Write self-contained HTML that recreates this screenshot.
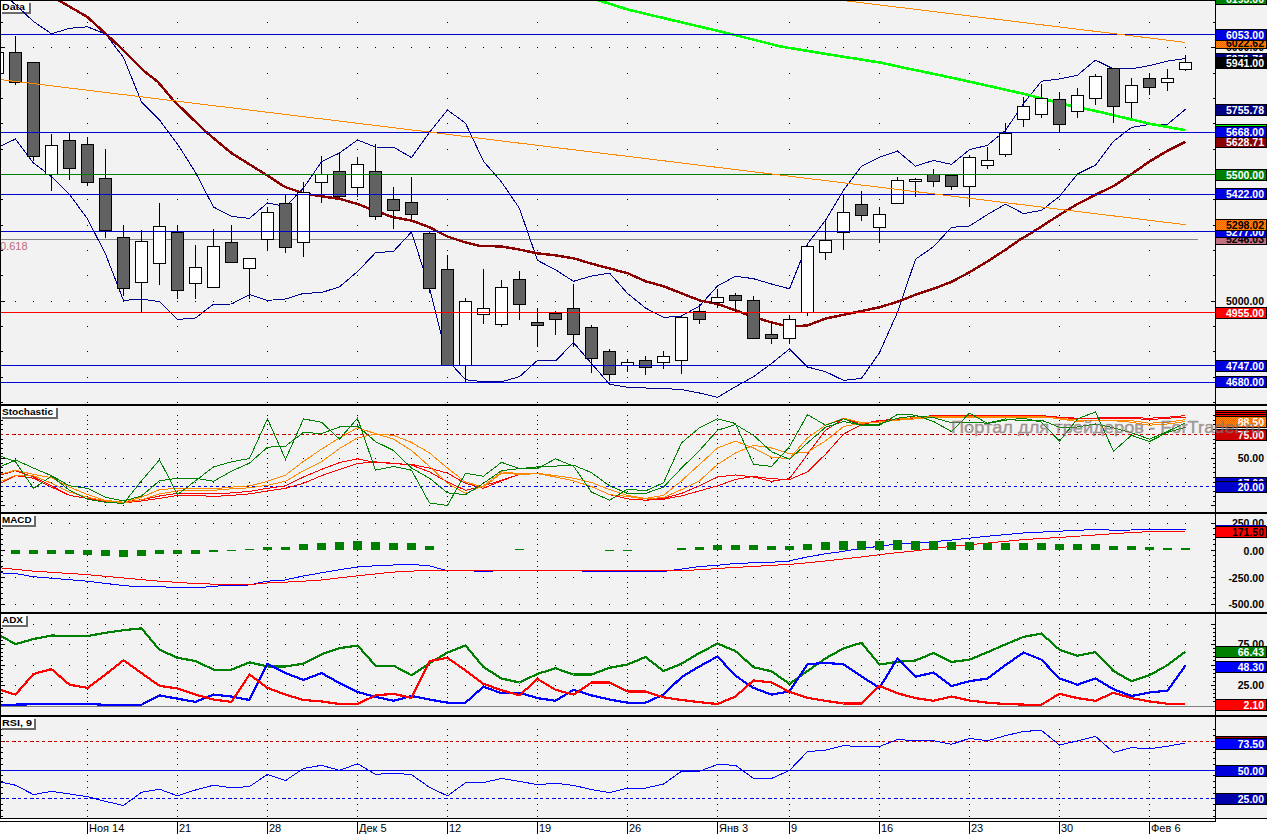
<!DOCTYPE html><html><head><meta charset="utf-8"><title>chart</title><style>html,body{margin:0;padding:0;background:#fff;overflow:hidden}body{width:1268px;height:834px;position:relative;font-family:"Liberation Sans",sans-serif}</style></head><body><svg width="1268" height="834" viewBox="0 0 1268 834" shape-rendering="crispEdges" style="position:absolute;left:0;top:0;font-family:'Liberation Sans',sans-serif">
<rect x="0" y="0" width="1268" height="834" fill="#ffffff" />
<rect x="0" y="0" width="1267" height="818" fill="#f2f2f2" />
<defs><clipPath id="cm"><rect x="0" y="0" width="1215" height="404"/></clipPath><pattern id="hat" width="2" height="2" patternUnits="userSpaceOnUse"><rect width="2" height="2" fill="#ff9000"/><rect width="1" height="1" fill="#ff5a00"/><rect x="1" y="1" width="1" height="1" fill="#ff5a00"/></pattern><pattern id="pk" width="2" height="1" patternUnits="userSpaceOnUse"><rect width="1" height="1" fill="#808080"/><rect x="1" width="1" height="1" fill="#ff5078"/></pattern></defs>
<path d="M87 402h1v1h-1zM177 402h1v1h-1zM267 402h1v1h-1zM357 402h1v1h-1zM447 402h1v1h-1zM537 402h1v1h-1zM627 402h1v1h-1zM717 402h1v1h-1zM789 402h1v1h-1zM879 402h1v1h-1zM969 402h1v1h-1zM1059 402h1v1h-1zM1149 402h1v1h-1zM87 377h1v1h-1zM177 377h1v1h-1zM267 377h1v1h-1zM357 377h1v1h-1zM447 377h1v1h-1zM537 377h1v1h-1zM627 377h1v1h-1zM717 377h1v1h-1zM789 377h1v1h-1zM879 377h1v1h-1zM969 377h1v1h-1zM1059 377h1v1h-1zM1149 377h1v1h-1zM87 351h1v1h-1zM177 351h1v1h-1zM267 351h1v1h-1zM357 351h1v1h-1zM447 351h1v1h-1zM537 351h1v1h-1zM627 351h1v1h-1zM717 351h1v1h-1zM789 351h1v1h-1zM879 351h1v1h-1zM969 351h1v1h-1zM1059 351h1v1h-1zM1149 351h1v1h-1zM87 326h1v1h-1zM177 326h1v1h-1zM267 326h1v1h-1zM357 326h1v1h-1zM447 326h1v1h-1zM537 326h1v1h-1zM627 326h1v1h-1zM717 326h1v1h-1zM789 326h1v1h-1zM879 326h1v1h-1zM969 326h1v1h-1zM1059 326h1v1h-1zM1149 326h1v1h-1zM87 301h1v1h-1zM177 301h1v1h-1zM267 301h1v1h-1zM357 301h1v1h-1zM447 301h1v1h-1zM537 301h1v1h-1zM627 301h1v1h-1zM717 301h1v1h-1zM789 301h1v1h-1zM879 301h1v1h-1zM969 301h1v1h-1zM1059 301h1v1h-1zM1149 301h1v1h-1zM87 275h1v1h-1zM177 275h1v1h-1zM267 275h1v1h-1zM357 275h1v1h-1zM447 275h1v1h-1zM537 275h1v1h-1zM627 275h1v1h-1zM717 275h1v1h-1zM789 275h1v1h-1zM879 275h1v1h-1zM969 275h1v1h-1zM1059 275h1v1h-1zM1149 275h1v1h-1zM87 250h1v1h-1zM177 250h1v1h-1zM267 250h1v1h-1zM357 250h1v1h-1zM447 250h1v1h-1zM537 250h1v1h-1zM627 250h1v1h-1zM717 250h1v1h-1zM789 250h1v1h-1zM879 250h1v1h-1zM969 250h1v1h-1zM1059 250h1v1h-1zM1149 250h1v1h-1zM87 225h1v1h-1zM177 225h1v1h-1zM267 225h1v1h-1zM357 225h1v1h-1zM447 225h1v1h-1zM537 225h1v1h-1zM627 225h1v1h-1zM717 225h1v1h-1zM789 225h1v1h-1zM879 225h1v1h-1zM969 225h1v1h-1zM1059 225h1v1h-1zM1149 225h1v1h-1zM87 199h1v1h-1zM177 199h1v1h-1zM267 199h1v1h-1zM357 199h1v1h-1zM447 199h1v1h-1zM537 199h1v1h-1zM627 199h1v1h-1zM717 199h1v1h-1zM789 199h1v1h-1zM879 199h1v1h-1zM969 199h1v1h-1zM1059 199h1v1h-1zM1149 199h1v1h-1zM87 174h1v1h-1zM177 174h1v1h-1zM267 174h1v1h-1zM357 174h1v1h-1zM447 174h1v1h-1zM537 174h1v1h-1zM627 174h1v1h-1zM717 174h1v1h-1zM789 174h1v1h-1zM879 174h1v1h-1zM969 174h1v1h-1zM1059 174h1v1h-1zM1149 174h1v1h-1zM87 149h1v1h-1zM177 149h1v1h-1zM267 149h1v1h-1zM357 149h1v1h-1zM447 149h1v1h-1zM537 149h1v1h-1zM627 149h1v1h-1zM717 149h1v1h-1zM789 149h1v1h-1zM879 149h1v1h-1zM969 149h1v1h-1zM1059 149h1v1h-1zM1149 149h1v1h-1zM87 123h1v1h-1zM177 123h1v1h-1zM267 123h1v1h-1zM357 123h1v1h-1zM447 123h1v1h-1zM537 123h1v1h-1zM627 123h1v1h-1zM717 123h1v1h-1zM789 123h1v1h-1zM879 123h1v1h-1zM969 123h1v1h-1zM1059 123h1v1h-1zM1149 123h1v1h-1zM87 98h1v1h-1zM177 98h1v1h-1zM267 98h1v1h-1zM357 98h1v1h-1zM447 98h1v1h-1zM537 98h1v1h-1zM627 98h1v1h-1zM717 98h1v1h-1zM789 98h1v1h-1zM879 98h1v1h-1zM969 98h1v1h-1zM1059 98h1v1h-1zM1149 98h1v1h-1zM87 73h1v1h-1zM177 73h1v1h-1zM267 73h1v1h-1zM357 73h1v1h-1zM447 73h1v1h-1zM537 73h1v1h-1zM627 73h1v1h-1zM717 73h1v1h-1zM789 73h1v1h-1zM879 73h1v1h-1zM969 73h1v1h-1zM1059 73h1v1h-1zM1149 73h1v1h-1zM87 47h1v1h-1zM177 47h1v1h-1zM267 47h1v1h-1zM357 47h1v1h-1zM447 47h1v1h-1zM537 47h1v1h-1zM627 47h1v1h-1zM717 47h1v1h-1zM789 47h1v1h-1zM879 47h1v1h-1zM969 47h1v1h-1zM1059 47h1v1h-1zM1149 47h1v1h-1zM87 22h1v1h-1zM177 22h1v1h-1zM267 22h1v1h-1zM357 22h1v1h-1zM447 22h1v1h-1zM537 22h1v1h-1zM627 22h1v1h-1zM717 22h1v1h-1zM789 22h1v1h-1zM879 22h1v1h-1zM969 22h1v1h-1zM1059 22h1v1h-1zM1149 22h1v1h-1zM15 301h1v1h-1zM33 301h1v1h-1zM51 301h1v1h-1zM69 301h1v1h-1zM87 301h1v1h-1zM105 301h1v1h-1zM123 301h1v1h-1zM141 301h1v1h-1zM159 301h1v1h-1zM177 301h1v1h-1zM195 301h1v1h-1zM213 301h1v1h-1zM231 301h1v1h-1zM249 301h1v1h-1zM267 301h1v1h-1zM285 301h1v1h-1zM303 301h1v1h-1zM321 301h1v1h-1zM339 301h1v1h-1zM357 301h1v1h-1zM375 301h1v1h-1zM393 301h1v1h-1zM411 301h1v1h-1zM429 301h1v1h-1zM447 301h1v1h-1zM465 301h1v1h-1zM483 301h1v1h-1zM501 301h1v1h-1zM519 301h1v1h-1zM537 301h1v1h-1zM555 301h1v1h-1zM573 301h1v1h-1zM591 301h1v1h-1zM609 301h1v1h-1zM627 301h1v1h-1zM645 301h1v1h-1zM663 301h1v1h-1zM681 301h1v1h-1zM699 301h1v1h-1zM717 301h1v1h-1zM735 301h1v1h-1zM753 301h1v1h-1zM771 301h1v1h-1zM789 301h1v1h-1zM807 301h1v1h-1zM825 301h1v1h-1zM843 301h1v1h-1zM861 301h1v1h-1zM879 301h1v1h-1zM897 301h1v1h-1zM915 301h1v1h-1zM933 301h1v1h-1zM951 301h1v1h-1zM969 301h1v1h-1zM987 301h1v1h-1zM1005 301h1v1h-1zM1023 301h1v1h-1zM1041 301h1v1h-1zM1059 301h1v1h-1zM1077 301h1v1h-1zM1095 301h1v1h-1zM1113 301h1v1h-1zM1131 301h1v1h-1zM1149 301h1v1h-1zM1167 301h1v1h-1zM1185 301h1v1h-1zM15 47h1v1h-1zM33 47h1v1h-1zM51 47h1v1h-1zM69 47h1v1h-1zM87 47h1v1h-1zM105 47h1v1h-1zM123 47h1v1h-1zM141 47h1v1h-1zM159 47h1v1h-1zM177 47h1v1h-1zM195 47h1v1h-1zM213 47h1v1h-1zM231 47h1v1h-1zM249 47h1v1h-1zM267 47h1v1h-1zM285 47h1v1h-1zM303 47h1v1h-1zM321 47h1v1h-1zM339 47h1v1h-1zM357 47h1v1h-1zM375 47h1v1h-1zM393 47h1v1h-1zM411 47h1v1h-1zM429 47h1v1h-1zM447 47h1v1h-1zM465 47h1v1h-1zM483 47h1v1h-1zM501 47h1v1h-1zM519 47h1v1h-1zM537 47h1v1h-1zM555 47h1v1h-1zM573 47h1v1h-1zM591 47h1v1h-1zM609 47h1v1h-1zM627 47h1v1h-1zM645 47h1v1h-1zM663 47h1v1h-1zM681 47h1v1h-1zM699 47h1v1h-1zM717 47h1v1h-1zM735 47h1v1h-1zM753 47h1v1h-1zM771 47h1v1h-1zM789 47h1v1h-1zM807 47h1v1h-1zM825 47h1v1h-1zM843 47h1v1h-1zM861 47h1v1h-1zM879 47h1v1h-1zM897 47h1v1h-1zM915 47h1v1h-1zM933 47h1v1h-1zM951 47h1v1h-1zM969 47h1v1h-1zM987 47h1v1h-1zM1005 47h1v1h-1zM1023 47h1v1h-1zM1041 47h1v1h-1zM1059 47h1v1h-1zM1077 47h1v1h-1zM1095 47h1v1h-1zM1113 47h1v1h-1zM1131 47h1v1h-1zM1149 47h1v1h-1zM1167 47h1v1h-1zM1185 47h1v1h-1z" fill="#000"/>
<rect x="1" y="402" width="2" height="1" fill="#000" />
<rect x="1213" y="402" width="2" height="1" fill="#000" />
<rect x="1" y="377" width="2" height="1" fill="#000" />
<rect x="1213" y="377" width="2" height="1" fill="#000" />
<rect x="1" y="351" width="2" height="1" fill="#000" />
<rect x="1213" y="351" width="2" height="1" fill="#000" />
<rect x="1" y="326" width="2" height="1" fill="#000" />
<rect x="1213" y="326" width="2" height="1" fill="#000" />
<rect x="1" y="301" width="4" height="1" fill="#000" />
<rect x="1211" y="301" width="4" height="1" fill="#000" />
<rect x="1" y="275" width="2" height="1" fill="#000" />
<rect x="1213" y="275" width="2" height="1" fill="#000" />
<rect x="1" y="250" width="2" height="1" fill="#000" />
<rect x="1213" y="250" width="2" height="1" fill="#000" />
<rect x="1" y="225" width="2" height="1" fill="#000" />
<rect x="1213" y="225" width="2" height="1" fill="#000" />
<rect x="1" y="199" width="2" height="1" fill="#000" />
<rect x="1213" y="199" width="2" height="1" fill="#000" />
<rect x="1" y="174" width="2" height="1" fill="#000" />
<rect x="1213" y="174" width="2" height="1" fill="#000" />
<rect x="1" y="149" width="2" height="1" fill="#000" />
<rect x="1213" y="149" width="2" height="1" fill="#000" />
<rect x="1" y="123" width="2" height="1" fill="#000" />
<rect x="1213" y="123" width="2" height="1" fill="#000" />
<rect x="1" y="98" width="2" height="1" fill="#000" />
<rect x="1213" y="98" width="2" height="1" fill="#000" />
<rect x="1" y="73" width="2" height="1" fill="#000" />
<rect x="1213" y="73" width="2" height="1" fill="#000" />
<rect x="1" y="47" width="4" height="1" fill="#000" />
<rect x="1211" y="47" width="4" height="1" fill="#000" />
<rect x="1" y="22" width="2" height="1" fill="#000" />
<rect x="1213" y="22" width="2" height="1" fill="#000" />
<g clip-path="url(#cm)">
<rect x="2" y="3" width="29" height="11" fill="#6a6a6a" />
<rect x="1" y="1" width="28" height="11" fill="#ffffff" />
<text x="2" y="10" font-size="9.7" font-weight="bold" fill="#000" textLength="23" lengthAdjust="spacingAndGlyphs">Data</text>
<rect x="1" y="239" width="1197" height="1" fill="url(#pk)" />
<text x="0" y="250" font-size="11" fill="#c06878">0.618</text>
<polyline points="-3.0,-12.0 15.5,4.7 33.5,21.5 51.5,33.8 69.5,28.3 87.5,26.8 105.5,34.0 123.5,57.5 141.5,102.0 159.5,120.0 177.5,144.0 195.5,172.5 213.5,207.0 231.5,216.4 249.5,218.4 267.5,203.0 285.5,206.5 303.5,188.0 321.5,161.8 339.5,153.0 357.5,140.0 375.5,147.0 393.5,147.2 411.5,157.5 429.5,132.3 447.5,110.0 465.5,123.2 483.5,161.3 501.5,182.0 519.5,208.5 537.5,260.4 555.5,269.8 573.5,281.3 591.5,276.1 609.5,273.1 627.5,293.4 645.5,308.0 663.5,317.4 681.5,316.0 699.5,306.0 717.5,286.0 735.5,276.2 753.5,278.7 771.5,284.0 789.5,288.8 807.5,243.9 825.5,220.3 843.5,190.2 861.5,166.2 879.5,157.3 897.5,151.0 915.5,166.2 933.5,160.4 951.5,164.4 969.5,149.7 987.5,145.3 1005.5,130.4 1023.5,103.5 1041.5,81.2 1059.5,79.0 1077.5,75.2 1095.5,60.1 1113.5,68.9 1131.5,68.9 1149.5,65.6 1167.5,61.1 1185.5,58.5" fill="none" stroke="#000090" stroke-width="1" />
<polyline points="-3.0,148.0 15.5,139.0 33.5,163.0 51.5,176.7 69.5,194.4 87.5,219.0 105.5,254.0 123.5,300.5 141.5,299.0 159.5,301.7 177.5,319.4 195.5,318.0 213.5,304.2 231.5,304.0 249.5,294.6 267.5,300.4 285.5,299.0 303.5,293.4 321.5,292.6 339.5,286.8 357.5,271.6 375.5,252.7 393.5,251.4 411.5,232.0 429.5,288.3 447.5,360.0 465.5,379.7 483.5,381.7 501.5,381.7 519.5,376.7 537.5,360.3 555.5,361.0 573.5,342.6 591.5,363.5 609.5,384.2 627.5,387.3 645.5,388.0 663.5,388.6 681.5,389.5 699.5,393.0 717.5,397.3 735.5,386.7 753.5,376.7 771.5,363.5 789.5,349.0 807.5,367.0 825.5,371.6 843.5,380.4 861.5,378.4 879.5,352.7 897.5,312.3 915.5,259.3 933.5,246.7 951.5,227.3 969.5,226.0 987.5,214.5 1005.5,204.1 1023.5,213.6 1041.5,210.3 1059.5,196.4 1077.5,174.0 1095.5,165.1 1113.5,141.3 1131.5,127.4 1149.5,124.4 1167.5,124.2 1185.5,109.3" fill="none" stroke="#000090" stroke-width="1" />
<polyline points="590.0,-3.0 597.7,0.0 628.0,9.6 681.0,22.2 731.4,34.1 780.0,46.3 789.5,48.0 832.4,55.0 881.0,62.7 900.0,66.9 940.0,75.2 969.3,81.6 1023.5,93.8 1066.2,104.7 1100.0,112.0 1149.5,123.7 1185.5,130.2" fill="none" stroke="#00ff00" stroke-width="2.6" />
<polyline points="50.0,-6.0 58.0,0.0 87.0,16.7 106.0,34.0 123.7,50.5 144.0,71.0 158.0,82.0 174.0,101.0 205.7,131.5 214.5,139.0 232.0,153.5 265.0,174.0 285.0,187.0 303.0,193.0 310.0,194.6 340.4,199.0 357.5,204.0 375.7,211.0 393.4,217.3 411.5,220.5 429.5,227.3 447.5,236.5 465.5,242.5 479.3,245.8 501.7,246.5 518.9,249.5 537.2,253.3 555.3,255.3 573.7,258.3 591.5,263.7 609.3,268.4 627.6,273.2 645.5,281.3 663.7,286.3 681.6,293.4 699.7,300.4 717.4,304.0 735.3,310.3 753.5,316.8 771.4,322.4 783.3,325.4 796.0,326.2 807.5,325.4 825.4,318.6 843.6,314.8 861.5,311.0 879.4,307.3 897.6,301.7 915.8,294.6 933.4,288.8 951.1,282.0 969.3,272.4 987.7,261.3 1005.4,249.8 1020.0,239.6 1032.4,232.3 1059.4,214.9 1077.5,204.0 1096.5,194.3 1113.6,186.0 1131.5,174.1 1149.5,161.5 1167.6,150.7 1185.5,141.8" fill="none" stroke="#8b0000" stroke-width="2.45" />
<rect x="-3" y="52" width="1" height="22" fill="#000" />
<rect x="-9" y="52" width="13" height="22" fill="#000" />
<rect x="-8" y="53" width="11" height="20" fill="#ffffff" />
<rect x="15" y="36" width="1" height="49" fill="#000" />
<rect x="9" y="52" width="13" height="31" fill="#000" />
<rect x="10" y="53" width="11" height="29" fill="#626262" />
<rect x="33" y="62" width="1" height="99" fill="#000" />
<rect x="27" y="62" width="13" height="95" fill="#000" />
<rect x="28" y="63" width="11" height="93" fill="#626262" />
<rect x="51" y="134" width="1" height="57" fill="#000" />
<rect x="45" y="145" width="13" height="30" fill="#000" />
<rect x="46" y="146" width="11" height="28" fill="#ffffff" />
<rect x="69" y="133" width="1" height="47" fill="#000" />
<rect x="63" y="140" width="13" height="29" fill="#000" />
<rect x="64" y="141" width="11" height="27" fill="#626262" />
<rect x="87" y="137" width="1" height="49" fill="#000" />
<rect x="81" y="144" width="13" height="39" fill="#000" />
<rect x="82" y="145" width="11" height="37" fill="#626262" />
<rect x="105" y="149" width="1" height="89" fill="#000" />
<rect x="99" y="178" width="13" height="53" fill="#000" />
<rect x="100" y="179" width="11" height="51" fill="#626262" />
<rect x="123" y="225" width="1" height="71" fill="#000" />
<rect x="117" y="237" width="13" height="52" fill="#000" />
<rect x="118" y="238" width="11" height="50" fill="#626262" />
<rect x="141" y="230" width="1" height="83" fill="#000" />
<rect x="135" y="241" width="13" height="42" fill="#000" />
<rect x="136" y="242" width="11" height="40" fill="#ffffff" />
<rect x="159" y="203" width="1" height="82" fill="#000" />
<rect x="153" y="226" width="13" height="38" fill="#000" />
<rect x="154" y="227" width="11" height="36" fill="#ffffff" />
<rect x="177" y="225" width="1" height="74" fill="#000" />
<rect x="171" y="232" width="13" height="59" fill="#000" />
<rect x="172" y="233" width="11" height="57" fill="#626262" />
<rect x="195" y="245" width="1" height="54" fill="#000" />
<rect x="189" y="267" width="13" height="17" fill="#000" />
<rect x="190" y="268" width="11" height="15" fill="#ffffff" />
<rect x="213" y="229" width="1" height="59" fill="#000" />
<rect x="207" y="246" width="13" height="42" fill="#000" />
<rect x="208" y="247" width="11" height="40" fill="#ffffff" />
<rect x="231" y="225" width="1" height="38" fill="#000" />
<rect x="225" y="242" width="13" height="21" fill="#000" />
<rect x="226" y="243" width="11" height="19" fill="#626262" />
<rect x="249" y="258" width="1" height="41" fill="#000" />
<rect x="243" y="258" width="13" height="11" fill="#000" />
<rect x="244" y="259" width="11" height="9" fill="#ffffff" />
<rect x="267" y="207" width="1" height="44" fill="#000" />
<rect x="261" y="212" width="13" height="28" fill="#000" />
<rect x="262" y="213" width="11" height="26" fill="#ffffff" />
<rect x="285" y="194" width="1" height="59" fill="#000" />
<rect x="279" y="203" width="13" height="45" fill="#000" />
<rect x="280" y="204" width="11" height="43" fill="#626262" />
<rect x="303" y="182" width="1" height="75" fill="#000" />
<rect x="297" y="192" width="13" height="51" fill="#000" />
<rect x="298" y="193" width="11" height="49" fill="#ffffff" />
<rect x="321" y="156" width="1" height="47" fill="#000" />
<rect x="315" y="174" width="13" height="9" fill="#000" />
<rect x="316" y="175" width="11" height="7" fill="#ffffff" />
<rect x="339" y="153" width="1" height="46" fill="#000" />
<rect x="333" y="171" width="13" height="26" fill="#000" />
<rect x="334" y="172" width="11" height="24" fill="#626262" />
<rect x="357" y="157" width="1" height="40" fill="#000" />
<rect x="351" y="164" width="13" height="24" fill="#000" />
<rect x="352" y="165" width="11" height="22" fill="#ffffff" />
<rect x="375" y="144" width="1" height="76" fill="#000" />
<rect x="369" y="171" width="13" height="46" fill="#000" />
<rect x="370" y="172" width="11" height="44" fill="#626262" />
<rect x="393" y="187" width="1" height="42" fill="#000" />
<rect x="387" y="199" width="13" height="12" fill="#000" />
<rect x="388" y="200" width="11" height="10" fill="#626262" />
<rect x="411" y="177" width="1" height="43" fill="#000" />
<rect x="405" y="202" width="13" height="13" fill="#000" />
<rect x="406" y="203" width="11" height="11" fill="#626262" />
<rect x="429" y="232" width="1" height="61" fill="#000" />
<rect x="423" y="233" width="13" height="56" fill="#000" />
<rect x="424" y="234" width="11" height="54" fill="#626262" />
<rect x="447" y="255" width="1" height="111" fill="#000" />
<rect x="441" y="269" width="13" height="97" fill="#000" />
<rect x="442" y="270" width="11" height="95" fill="#626262" />
<rect x="465" y="298" width="1" height="85" fill="#000" />
<rect x="459" y="301" width="13" height="65" fill="#000" />
<rect x="460" y="302" width="11" height="63" fill="#ffffff" />
<rect x="483" y="269" width="1" height="55" fill="#000" />
<rect x="477" y="308" width="13" height="7" fill="#000" />
<rect x="478" y="309" width="11" height="5" fill="#ffffff" />
<rect x="501" y="280" width="1" height="47" fill="#000" />
<rect x="495" y="287" width="13" height="38" fill="#000" />
<rect x="496" y="288" width="11" height="36" fill="#ffffff" />
<rect x="519" y="271" width="1" height="49" fill="#000" />
<rect x="513" y="279" width="13" height="26" fill="#000" />
<rect x="514" y="280" width="11" height="24" fill="#626262" />
<rect x="537" y="308" width="1" height="39" fill="#000" />
<rect x="531" y="322" width="13" height="4" fill="#000" />
<rect x="532" y="323" width="11" height="2" fill="#626262" />
<rect x="555" y="311" width="1" height="24" fill="#000" />
<rect x="549" y="313" width="13" height="7" fill="#000" />
<rect x="550" y="314" width="11" height="5" fill="#626262" />
<rect x="573" y="284" width="1" height="63" fill="#000" />
<rect x="567" y="308" width="13" height="27" fill="#000" />
<rect x="568" y="309" width="11" height="25" fill="#626262" />
<rect x="591" y="325" width="1" height="48" fill="#000" />
<rect x="585" y="327" width="13" height="32" fill="#000" />
<rect x="586" y="328" width="11" height="30" fill="#626262" />
<rect x="609" y="349" width="1" height="32" fill="#000" />
<rect x="603" y="351" width="13" height="24" fill="#000" />
<rect x="604" y="352" width="11" height="22" fill="#626262" />
<rect x="627" y="359" width="1" height="13" fill="#000" />
<rect x="621" y="362" width="13" height="4" fill="#000" />
<rect x="622" y="363" width="11" height="2" fill="#ffffff" />
<rect x="645" y="356" width="1" height="19" fill="#000" />
<rect x="639" y="360" width="13" height="8" fill="#000" />
<rect x="640" y="361" width="11" height="6" fill="#626262" />
<rect x="663" y="351" width="1" height="18" fill="#000" />
<rect x="657" y="356" width="13" height="7" fill="#000" />
<rect x="658" y="357" width="11" height="5" fill="#ffffff" />
<rect x="681" y="316" width="1" height="58" fill="#000" />
<rect x="675" y="317" width="13" height="44" fill="#000" />
<rect x="676" y="318" width="11" height="42" fill="#ffffff" />
<rect x="699" y="304" width="1" height="20" fill="#000" />
<rect x="693" y="311" width="13" height="9" fill="#000" />
<rect x="694" y="312" width="11" height="7" fill="#626262" />
<rect x="717" y="289" width="1" height="19" fill="#000" />
<rect x="711" y="297" width="13" height="6" fill="#000" />
<rect x="712" y="298" width="11" height="4" fill="#ffffff" />
<rect x="735" y="293" width="1" height="19" fill="#000" />
<rect x="729" y="295" width="13" height="6" fill="#000" />
<rect x="730" y="296" width="11" height="4" fill="#626262" />
<rect x="753" y="296" width="1" height="43" fill="#000" />
<rect x="747" y="300" width="13" height="39" fill="#000" />
<rect x="748" y="301" width="11" height="37" fill="#626262" />
<rect x="771" y="321" width="1" height="23" fill="#000" />
<rect x="765" y="334" width="13" height="5" fill="#000" />
<rect x="766" y="335" width="11" height="3" fill="#626262" />
<rect x="789" y="315" width="1" height="29" fill="#000" />
<rect x="783" y="319" width="13" height="20" fill="#000" />
<rect x="784" y="320" width="11" height="18" fill="#ffffff" />
<rect x="807" y="243" width="1" height="73" fill="#000" />
<rect x="801" y="246" width="13" height="67" fill="#000" />
<rect x="802" y="247" width="11" height="65" fill="#ffffff" />
<rect x="825" y="220" width="1" height="40" fill="#000" />
<rect x="819" y="240" width="13" height="13" fill="#000" />
<rect x="820" y="241" width="11" height="11" fill="#ffffff" />
<rect x="843" y="194" width="1" height="56" fill="#000" />
<rect x="837" y="212" width="13" height="21" fill="#000" />
<rect x="838" y="213" width="11" height="19" fill="#ffffff" />
<rect x="861" y="191" width="1" height="30" fill="#000" />
<rect x="855" y="204" width="13" height="12" fill="#000" />
<rect x="856" y="205" width="11" height="10" fill="#626262" />
<rect x="879" y="207" width="1" height="36" fill="#000" />
<rect x="873" y="214" width="13" height="14" fill="#000" />
<rect x="874" y="215" width="11" height="12" fill="#ffffff" />
<rect x="897" y="177" width="1" height="27" fill="#000" />
<rect x="891" y="180" width="13" height="24" fill="#000" />
<rect x="892" y="181" width="11" height="22" fill="#ffffff" />
<rect x="915" y="178" width="1" height="19" fill="#000" />
<rect x="909" y="179" width="13" height="3" fill="#000" />
<rect x="910" y="180" width="11" height="1" fill="#ffffff" />
<rect x="933" y="169" width="1" height="18" fill="#000" />
<rect x="927" y="174" width="13" height="8" fill="#000" />
<rect x="928" y="175" width="11" height="6" fill="#626262" />
<rect x="951" y="175" width="1" height="15" fill="#000" />
<rect x="945" y="175" width="13" height="12" fill="#000" />
<rect x="946" y="176" width="11" height="10" fill="#626262" />
<rect x="969" y="155" width="1" height="52" fill="#000" />
<rect x="963" y="157" width="13" height="30" fill="#000" />
<rect x="964" y="158" width="11" height="28" fill="#ffffff" />
<rect x="987" y="147" width="1" height="22" fill="#000" />
<rect x="981" y="160" width="13" height="6" fill="#000" />
<rect x="982" y="161" width="11" height="4" fill="#ffffff" />
<rect x="1005" y="123" width="1" height="34" fill="#000" />
<rect x="999" y="133" width="13" height="22" fill="#000" />
<rect x="1000" y="134" width="11" height="20" fill="#ffffff" />
<rect x="1023" y="97" width="1" height="30" fill="#000" />
<rect x="1017" y="106" width="13" height="14" fill="#000" />
<rect x="1018" y="107" width="11" height="12" fill="#ffffff" />
<rect x="1041" y="84" width="1" height="34" fill="#000" />
<rect x="1035" y="98" width="13" height="17" fill="#000" />
<rect x="1036" y="99" width="11" height="15" fill="#ffffff" />
<rect x="1059" y="92" width="1" height="40" fill="#000" />
<rect x="1053" y="99" width="13" height="26" fill="#000" />
<rect x="1054" y="100" width="11" height="24" fill="#626262" />
<rect x="1077" y="88" width="1" height="30" fill="#000" />
<rect x="1071" y="95" width="13" height="17" fill="#000" />
<rect x="1072" y="96" width="11" height="15" fill="#ffffff" />
<rect x="1095" y="74" width="1" height="31" fill="#000" />
<rect x="1089" y="76" width="13" height="23" fill="#000" />
<rect x="1090" y="77" width="11" height="21" fill="#ffffff" />
<rect x="1113" y="68" width="1" height="55" fill="#000" />
<rect x="1107" y="68" width="13" height="39" fill="#000" />
<rect x="1108" y="69" width="11" height="37" fill="#626262" />
<rect x="1131" y="78" width="1" height="40" fill="#000" />
<rect x="1125" y="85" width="13" height="18" fill="#000" />
<rect x="1126" y="86" width="11" height="16" fill="#ffffff" />
<rect x="1149" y="73" width="1" height="22" fill="#000" />
<rect x="1143" y="78" width="13" height="10" fill="#000" />
<rect x="1144" y="79" width="11" height="8" fill="#626262" />
<rect x="1167" y="69" width="1" height="22" fill="#000" />
<rect x="1161" y="78" width="13" height="5" fill="#000" />
<rect x="1162" y="79" width="11" height="3" fill="#ffffff" />
<rect x="1185" y="55" width="1" height="16" fill="#000" />
<rect x="1179" y="62" width="13" height="8" fill="#000" />
<rect x="1180" y="63" width="11" height="6" fill="#ffffff" />
<rect x="1" y="34" width="1214" height="1" fill="#0000cc" />
<rect x="1" y="132" width="1214" height="1" fill="#0000cc" />
<rect x="1" y="194" width="1214" height="1" fill="#0000cc" />
<rect x="1" y="231" width="1214" height="1" fill="#0000cc" />
<rect x="1" y="365" width="1214" height="1" fill="#0000cc" />
<rect x="1" y="382" width="1214" height="1" fill="#0000d8" />
<rect x="1" y="174" width="1214" height="1" fill="#008000" />
<rect x="1" y="312" width="1214" height="1" fill="#ff0000" />
<polyline points="0.0,79.5 1185.5,224.7" fill="none" stroke="#ff8800" stroke-width="1" />
<polyline points="836.0,-0.4 1185.5,42.4" fill="none" stroke="#ff8800" stroke-width="1" />
</g>
<path d="M87 505h1v1h-1zM87 501h1v1h-1zM87 496h1v1h-1zM87 491h1v1h-1zM87 486h1v1h-1zM87 482h1v1h-1zM87 477h1v1h-1zM87 472h1v1h-1zM87 467h1v1h-1zM87 463h1v1h-1zM87 458h1v1h-1zM87 453h1v1h-1zM87 448h1v1h-1zM87 443h1v1h-1zM87 439h1v1h-1zM87 434h1v1h-1zM87 429h1v1h-1zM87 424h1v1h-1zM87 420h1v1h-1zM87 415h1v1h-1zM177 505h1v1h-1zM177 501h1v1h-1zM177 496h1v1h-1zM177 491h1v1h-1zM177 486h1v1h-1zM177 482h1v1h-1zM177 477h1v1h-1zM177 472h1v1h-1zM177 467h1v1h-1zM177 463h1v1h-1zM177 458h1v1h-1zM177 453h1v1h-1zM177 448h1v1h-1zM177 443h1v1h-1zM177 439h1v1h-1zM177 434h1v1h-1zM177 429h1v1h-1zM177 424h1v1h-1zM177 420h1v1h-1zM177 415h1v1h-1zM267 505h1v1h-1zM267 501h1v1h-1zM267 496h1v1h-1zM267 491h1v1h-1zM267 486h1v1h-1zM267 482h1v1h-1zM267 477h1v1h-1zM267 472h1v1h-1zM267 467h1v1h-1zM267 463h1v1h-1zM267 458h1v1h-1zM267 453h1v1h-1zM267 448h1v1h-1zM267 443h1v1h-1zM267 439h1v1h-1zM267 434h1v1h-1zM267 429h1v1h-1zM267 424h1v1h-1zM267 420h1v1h-1zM267 415h1v1h-1zM357 505h1v1h-1zM357 501h1v1h-1zM357 496h1v1h-1zM357 491h1v1h-1zM357 486h1v1h-1zM357 482h1v1h-1zM357 477h1v1h-1zM357 472h1v1h-1zM357 467h1v1h-1zM357 463h1v1h-1zM357 458h1v1h-1zM357 453h1v1h-1zM357 448h1v1h-1zM357 443h1v1h-1zM357 439h1v1h-1zM357 434h1v1h-1zM357 429h1v1h-1zM357 424h1v1h-1zM357 420h1v1h-1zM357 415h1v1h-1zM447 505h1v1h-1zM447 501h1v1h-1zM447 496h1v1h-1zM447 491h1v1h-1zM447 486h1v1h-1zM447 482h1v1h-1zM447 477h1v1h-1zM447 472h1v1h-1zM447 467h1v1h-1zM447 463h1v1h-1zM447 458h1v1h-1zM447 453h1v1h-1zM447 448h1v1h-1zM447 443h1v1h-1zM447 439h1v1h-1zM447 434h1v1h-1zM447 429h1v1h-1zM447 424h1v1h-1zM447 420h1v1h-1zM447 415h1v1h-1zM537 505h1v1h-1zM537 501h1v1h-1zM537 496h1v1h-1zM537 491h1v1h-1zM537 486h1v1h-1zM537 482h1v1h-1zM537 477h1v1h-1zM537 472h1v1h-1zM537 467h1v1h-1zM537 463h1v1h-1zM537 458h1v1h-1zM537 453h1v1h-1zM537 448h1v1h-1zM537 443h1v1h-1zM537 439h1v1h-1zM537 434h1v1h-1zM537 429h1v1h-1zM537 424h1v1h-1zM537 420h1v1h-1zM537 415h1v1h-1zM627 505h1v1h-1zM627 501h1v1h-1zM627 496h1v1h-1zM627 491h1v1h-1zM627 486h1v1h-1zM627 482h1v1h-1zM627 477h1v1h-1zM627 472h1v1h-1zM627 467h1v1h-1zM627 463h1v1h-1zM627 458h1v1h-1zM627 453h1v1h-1zM627 448h1v1h-1zM627 443h1v1h-1zM627 439h1v1h-1zM627 434h1v1h-1zM627 429h1v1h-1zM627 424h1v1h-1zM627 420h1v1h-1zM627 415h1v1h-1zM717 505h1v1h-1zM717 501h1v1h-1zM717 496h1v1h-1zM717 491h1v1h-1zM717 486h1v1h-1zM717 482h1v1h-1zM717 477h1v1h-1zM717 472h1v1h-1zM717 467h1v1h-1zM717 463h1v1h-1zM717 458h1v1h-1zM717 453h1v1h-1zM717 448h1v1h-1zM717 443h1v1h-1zM717 439h1v1h-1zM717 434h1v1h-1zM717 429h1v1h-1zM717 424h1v1h-1zM717 420h1v1h-1zM717 415h1v1h-1zM789 505h1v1h-1zM789 501h1v1h-1zM789 496h1v1h-1zM789 491h1v1h-1zM789 486h1v1h-1zM789 482h1v1h-1zM789 477h1v1h-1zM789 472h1v1h-1zM789 467h1v1h-1zM789 463h1v1h-1zM789 458h1v1h-1zM789 453h1v1h-1zM789 448h1v1h-1zM789 443h1v1h-1zM789 439h1v1h-1zM789 434h1v1h-1zM789 429h1v1h-1zM789 424h1v1h-1zM789 420h1v1h-1zM789 415h1v1h-1zM879 505h1v1h-1zM879 501h1v1h-1zM879 496h1v1h-1zM879 491h1v1h-1zM879 486h1v1h-1zM879 482h1v1h-1zM879 477h1v1h-1zM879 472h1v1h-1zM879 467h1v1h-1zM879 463h1v1h-1zM879 458h1v1h-1zM879 453h1v1h-1zM879 448h1v1h-1zM879 443h1v1h-1zM879 439h1v1h-1zM879 434h1v1h-1zM879 429h1v1h-1zM879 424h1v1h-1zM879 420h1v1h-1zM879 415h1v1h-1zM969 505h1v1h-1zM969 501h1v1h-1zM969 496h1v1h-1zM969 491h1v1h-1zM969 486h1v1h-1zM969 482h1v1h-1zM969 477h1v1h-1zM969 472h1v1h-1zM969 467h1v1h-1zM969 463h1v1h-1zM969 458h1v1h-1zM969 453h1v1h-1zM969 448h1v1h-1zM969 443h1v1h-1zM969 439h1v1h-1zM969 434h1v1h-1zM969 429h1v1h-1zM969 424h1v1h-1zM969 420h1v1h-1zM969 415h1v1h-1zM1059 505h1v1h-1zM1059 501h1v1h-1zM1059 496h1v1h-1zM1059 491h1v1h-1zM1059 486h1v1h-1zM1059 482h1v1h-1zM1059 477h1v1h-1zM1059 472h1v1h-1zM1059 467h1v1h-1zM1059 463h1v1h-1zM1059 458h1v1h-1zM1059 453h1v1h-1zM1059 448h1v1h-1zM1059 443h1v1h-1zM1059 439h1v1h-1zM1059 434h1v1h-1zM1059 429h1v1h-1zM1059 424h1v1h-1zM1059 420h1v1h-1zM1059 415h1v1h-1zM1149 505h1v1h-1zM1149 501h1v1h-1zM1149 496h1v1h-1zM1149 491h1v1h-1zM1149 486h1v1h-1zM1149 482h1v1h-1zM1149 477h1v1h-1zM1149 472h1v1h-1zM1149 467h1v1h-1zM1149 463h1v1h-1zM1149 458h1v1h-1zM1149 453h1v1h-1zM1149 448h1v1h-1zM1149 443h1v1h-1zM1149 439h1v1h-1zM1149 434h1v1h-1zM1149 429h1v1h-1zM1149 424h1v1h-1zM1149 420h1v1h-1zM1149 415h1v1h-1zM15 434h1v1h-1zM33 434h1v1h-1zM51 434h1v1h-1zM69 434h1v1h-1zM87 434h1v1h-1zM105 434h1v1h-1zM123 434h1v1h-1zM141 434h1v1h-1zM159 434h1v1h-1zM177 434h1v1h-1zM195 434h1v1h-1zM213 434h1v1h-1zM231 434h1v1h-1zM249 434h1v1h-1zM267 434h1v1h-1zM285 434h1v1h-1zM303 434h1v1h-1zM321 434h1v1h-1zM339 434h1v1h-1zM357 434h1v1h-1zM375 434h1v1h-1zM393 434h1v1h-1zM411 434h1v1h-1zM429 434h1v1h-1zM447 434h1v1h-1zM465 434h1v1h-1zM483 434h1v1h-1zM501 434h1v1h-1zM519 434h1v1h-1zM537 434h1v1h-1zM555 434h1v1h-1zM573 434h1v1h-1zM591 434h1v1h-1zM609 434h1v1h-1zM627 434h1v1h-1zM645 434h1v1h-1zM663 434h1v1h-1zM681 434h1v1h-1zM699 434h1v1h-1zM717 434h1v1h-1zM735 434h1v1h-1zM753 434h1v1h-1zM771 434h1v1h-1zM789 434h1v1h-1zM807 434h1v1h-1zM825 434h1v1h-1zM843 434h1v1h-1zM861 434h1v1h-1zM879 434h1v1h-1zM897 434h1v1h-1zM915 434h1v1h-1zM933 434h1v1h-1zM951 434h1v1h-1zM969 434h1v1h-1zM987 434h1v1h-1zM1005 434h1v1h-1zM1023 434h1v1h-1zM1041 434h1v1h-1zM1059 434h1v1h-1zM1077 434h1v1h-1zM1095 434h1v1h-1zM1113 434h1v1h-1zM1131 434h1v1h-1zM1149 434h1v1h-1zM1167 434h1v1h-1zM1185 434h1v1h-1zM15 458h1v1h-1zM33 458h1v1h-1zM51 458h1v1h-1zM69 458h1v1h-1zM87 458h1v1h-1zM105 458h1v1h-1zM123 458h1v1h-1zM141 458h1v1h-1zM159 458h1v1h-1zM177 458h1v1h-1zM195 458h1v1h-1zM213 458h1v1h-1zM231 458h1v1h-1zM249 458h1v1h-1zM267 458h1v1h-1zM285 458h1v1h-1zM303 458h1v1h-1zM321 458h1v1h-1zM339 458h1v1h-1zM357 458h1v1h-1zM375 458h1v1h-1zM393 458h1v1h-1zM411 458h1v1h-1zM429 458h1v1h-1zM447 458h1v1h-1zM465 458h1v1h-1zM483 458h1v1h-1zM501 458h1v1h-1zM519 458h1v1h-1zM537 458h1v1h-1zM555 458h1v1h-1zM573 458h1v1h-1zM591 458h1v1h-1zM609 458h1v1h-1zM627 458h1v1h-1zM645 458h1v1h-1zM663 458h1v1h-1zM681 458h1v1h-1zM699 458h1v1h-1zM717 458h1v1h-1zM735 458h1v1h-1zM753 458h1v1h-1zM771 458h1v1h-1zM789 458h1v1h-1zM807 458h1v1h-1zM825 458h1v1h-1zM843 458h1v1h-1zM861 458h1v1h-1zM879 458h1v1h-1zM897 458h1v1h-1zM915 458h1v1h-1zM933 458h1v1h-1zM951 458h1v1h-1zM969 458h1v1h-1zM987 458h1v1h-1zM1005 458h1v1h-1zM1023 458h1v1h-1zM1041 458h1v1h-1zM1059 458h1v1h-1zM1077 458h1v1h-1zM1095 458h1v1h-1zM1113 458h1v1h-1zM1131 458h1v1h-1zM1149 458h1v1h-1zM1167 458h1v1h-1zM1185 458h1v1h-1zM15 482h1v1h-1zM33 482h1v1h-1zM51 482h1v1h-1zM69 482h1v1h-1zM87 482h1v1h-1zM105 482h1v1h-1zM123 482h1v1h-1zM141 482h1v1h-1zM159 482h1v1h-1zM177 482h1v1h-1zM195 482h1v1h-1zM213 482h1v1h-1zM231 482h1v1h-1zM249 482h1v1h-1zM267 482h1v1h-1zM285 482h1v1h-1zM303 482h1v1h-1zM321 482h1v1h-1zM339 482h1v1h-1zM357 482h1v1h-1zM375 482h1v1h-1zM393 482h1v1h-1zM411 482h1v1h-1zM429 482h1v1h-1zM447 482h1v1h-1zM465 482h1v1h-1zM483 482h1v1h-1zM501 482h1v1h-1zM519 482h1v1h-1zM537 482h1v1h-1zM555 482h1v1h-1zM573 482h1v1h-1zM591 482h1v1h-1zM609 482h1v1h-1zM627 482h1v1h-1zM645 482h1v1h-1zM663 482h1v1h-1zM681 482h1v1h-1zM699 482h1v1h-1zM717 482h1v1h-1zM735 482h1v1h-1zM753 482h1v1h-1zM771 482h1v1h-1zM789 482h1v1h-1zM807 482h1v1h-1zM825 482h1v1h-1zM843 482h1v1h-1zM861 482h1v1h-1zM879 482h1v1h-1zM897 482h1v1h-1zM915 482h1v1h-1zM933 482h1v1h-1zM951 482h1v1h-1zM969 482h1v1h-1zM987 482h1v1h-1zM1005 482h1v1h-1zM1023 482h1v1h-1zM1041 482h1v1h-1zM1059 482h1v1h-1zM1077 482h1v1h-1zM1095 482h1v1h-1zM1113 482h1v1h-1zM1131 482h1v1h-1zM1149 482h1v1h-1zM1167 482h1v1h-1zM1185 482h1v1h-1zM15 505h1v1h-1zM33 505h1v1h-1zM51 505h1v1h-1zM69 505h1v1h-1zM87 505h1v1h-1zM105 505h1v1h-1zM123 505h1v1h-1zM141 505h1v1h-1zM159 505h1v1h-1zM177 505h1v1h-1zM195 505h1v1h-1zM213 505h1v1h-1zM231 505h1v1h-1zM249 505h1v1h-1zM267 505h1v1h-1zM285 505h1v1h-1zM303 505h1v1h-1zM321 505h1v1h-1zM339 505h1v1h-1zM357 505h1v1h-1zM375 505h1v1h-1zM393 505h1v1h-1zM411 505h1v1h-1zM429 505h1v1h-1zM447 505h1v1h-1zM465 505h1v1h-1zM483 505h1v1h-1zM501 505h1v1h-1zM519 505h1v1h-1zM537 505h1v1h-1zM555 505h1v1h-1zM573 505h1v1h-1zM591 505h1v1h-1zM609 505h1v1h-1zM627 505h1v1h-1zM645 505h1v1h-1zM663 505h1v1h-1zM681 505h1v1h-1zM699 505h1v1h-1zM717 505h1v1h-1zM735 505h1v1h-1zM753 505h1v1h-1zM771 505h1v1h-1zM789 505h1v1h-1zM807 505h1v1h-1zM825 505h1v1h-1zM843 505h1v1h-1zM861 505h1v1h-1zM879 505h1v1h-1zM897 505h1v1h-1zM915 505h1v1h-1zM933 505h1v1h-1zM951 505h1v1h-1zM969 505h1v1h-1zM987 505h1v1h-1zM1005 505h1v1h-1zM1023 505h1v1h-1zM1041 505h1v1h-1zM1059 505h1v1h-1zM1077 505h1v1h-1zM1095 505h1v1h-1zM1113 505h1v1h-1zM1131 505h1v1h-1zM1149 505h1v1h-1zM1167 505h1v1h-1zM1185 505h1v1h-1z" fill="#000"/>
<rect x="1" y="505" width="2" height="1" fill="#000" />
<rect x="1213" y="505" width="2" height="1" fill="#000" />
<rect x="1" y="501" width="2" height="1" fill="#000" />
<rect x="1213" y="501" width="2" height="1" fill="#000" />
<rect x="1" y="496" width="2" height="1" fill="#000" />
<rect x="1213" y="496" width="2" height="1" fill="#000" />
<rect x="1" y="491" width="2" height="1" fill="#000" />
<rect x="1213" y="491" width="2" height="1" fill="#000" />
<rect x="1" y="486" width="2" height="1" fill="#000" />
<rect x="1213" y="486" width="2" height="1" fill="#000" />
<rect x="1" y="482" width="2" height="1" fill="#000" />
<rect x="1213" y="482" width="2" height="1" fill="#000" />
<rect x="1" y="477" width="2" height="1" fill="#000" />
<rect x="1213" y="477" width="2" height="1" fill="#000" />
<rect x="1" y="472" width="2" height="1" fill="#000" />
<rect x="1213" y="472" width="2" height="1" fill="#000" />
<rect x="1" y="467" width="2" height="1" fill="#000" />
<rect x="1213" y="467" width="2" height="1" fill="#000" />
<rect x="1" y="463" width="2" height="1" fill="#000" />
<rect x="1213" y="463" width="2" height="1" fill="#000" />
<rect x="1" y="458" width="2" height="1" fill="#000" />
<rect x="1213" y="458" width="2" height="1" fill="#000" />
<rect x="1" y="453" width="2" height="1" fill="#000" />
<rect x="1213" y="453" width="2" height="1" fill="#000" />
<rect x="1" y="448" width="2" height="1" fill="#000" />
<rect x="1213" y="448" width="2" height="1" fill="#000" />
<rect x="1" y="443" width="2" height="1" fill="#000" />
<rect x="1213" y="443" width="2" height="1" fill="#000" />
<rect x="1" y="439" width="2" height="1" fill="#000" />
<rect x="1213" y="439" width="2" height="1" fill="#000" />
<rect x="1" y="434" width="2" height="1" fill="#000" />
<rect x="1213" y="434" width="2" height="1" fill="#000" />
<rect x="1" y="429" width="2" height="1" fill="#000" />
<rect x="1213" y="429" width="2" height="1" fill="#000" />
<rect x="1" y="424" width="2" height="1" fill="#000" />
<rect x="1213" y="424" width="2" height="1" fill="#000" />
<rect x="1" y="420" width="2" height="1" fill="#000" />
<rect x="1213" y="420" width="2" height="1" fill="#000" />
<rect x="1" y="415" width="2" height="1" fill="#000" />
<rect x="1213" y="415" width="2" height="1" fill="#000" />
<rect x="1" y="458" width="4" height="1" fill="#000" />
<rect x="1211" y="458" width="4" height="1" fill="#000" />
<rect x="1" y="505" width="4" height="1" fill="#000" />
<rect x="1211" y="505" width="4" height="1" fill="#000" />
<rect x="2" y="408" width="56" height="11" fill="#6a6a6a" />
<rect x="1" y="406" width="55" height="11" fill="#ffffff" />
<text x="2" y="415" font-size="9.7" font-weight="bold" fill="#000" textLength="51" lengthAdjust="spacingAndGlyphs">Stochastic</text>
<line x1="0" x2="1215" y1="434.5" y2="434.5" stroke="#cc0000" stroke-dasharray="3 3"/>
<line x1="0" x2="1215" y1="486.5" y2="486.5" stroke="#0000dd" stroke-dasharray="3 3"/>
<polyline points="0.0,475.2 15.5,470.7 33.5,477.0 51.5,485.8 69.5,495.4 87.5,498.4 105.5,501.7 123.5,502.2 141.5,499.7 159.5,496.0 177.5,493.4 195.5,493.9 213.5,493.9 231.5,492.9 249.5,491.4 267.5,488.3 285.5,485.8 303.5,477.0 321.5,469.4 339.5,462.6 357.5,458.8 375.5,462.6 393.5,463.1 411.5,465.1 429.5,471.9 447.5,482.0 465.5,490.3 483.5,485.8 501.5,480.3 519.5,474.4 537.5,473.7 555.5,477.0 573.5,480.8 591.5,486.6 609.5,494.6 627.5,498.9 645.5,500.2 663.5,498.4 681.5,493.4 699.5,485.8 717.5,477.0 735.5,475.0 753.5,477.0 771.5,481.3 789.5,478.7 807.5,454.3 825.5,430.3 843.5,418.9 861.5,424.0 879.5,420.2 897.5,419.7 915.5,417.2 933.5,415.6 951.5,415.6 969.5,415.6 987.5,415.6 1005.5,415.6 1023.5,415.6 1041.5,415.6 1059.5,417.2 1077.5,418.2 1095.5,418.2 1113.5,417.2 1131.5,417.7 1149.5,418.2 1167.5,417.2 1185.5,415.6" fill="none" stroke="#ff0000" stroke-width="1" />
<polyline points="0.0,483.3 15.5,475.7 33.5,478.2 51.5,487.1 69.5,495.4 87.5,498.4 105.5,501.7 123.5,503.0 141.5,501.0 159.5,498.4 177.5,495.4 195.5,495.4 213.5,496.4 231.5,495.4 249.5,493.9 267.5,490.9 285.5,488.3 303.5,483.3 321.5,475.7 339.5,469.4 357.5,463.6 375.5,461.8 393.5,463.8 411.5,464.4 429.5,468.1 447.5,473.2 465.5,483.3 483.5,488.3 501.5,480.8 519.5,474.4 537.5,473.7 555.5,477.0 573.5,480.8 591.5,486.6 609.5,494.6 627.5,498.9 645.5,500.2 663.5,499.2 681.5,495.9 699.5,490.9 717.5,485.8 735.5,479.5 753.5,476.5 771.5,478.7 789.5,479.5 807.5,471.9 825.5,454.3 843.5,434.1 861.5,424.5 879.5,420.9 897.5,420.2 915.5,417.7 933.5,416.4 951.5,416.4 969.5,416.4 987.5,416.4 1005.5,416.4 1023.5,416.4 1041.5,416.4 1059.5,417.2 1077.5,418.9 1095.5,418.9 1113.5,418.2 1131.5,418.2 1149.5,419.7 1167.5,418.2 1185.5,417.2" fill="none" stroke="#ff0000" stroke-width="1" />
<polyline points="0.0,474.4 15.5,470.2 33.5,474.4 51.5,477.7 69.5,487.1 87.5,494.6 105.5,500.4 123.5,502.2 141.5,497.2 159.5,489.6 177.5,488.3 195.5,488.3 213.5,488.8 231.5,487.1 249.5,485.8 267.5,481.3 285.5,475.2 303.5,461.3 321.5,449.2 339.5,437.9 357.5,427.8 375.5,433.6 393.5,439.1 411.5,450.5 429.5,466.4 447.5,483.3 465.5,493.4 483.5,485.8 501.5,471.9 519.5,473.7 537.5,473.2 555.5,475.7 573.5,478.2 591.5,482.5 609.5,489.6 627.5,495.4 645.5,498.4 663.5,495.4 681.5,480.8 699.5,464.4 717.5,448.0 735.5,441.1 753.5,448.0 771.5,457.5 789.5,458.5 807.5,437.9 825.5,425.2 843.5,418.2 861.5,422.7 879.5,422.2 897.5,418.9 915.5,417.7 933.5,416.4 951.5,416.4 969.5,416.4 987.5,416.4 1005.5,416.4 1023.5,416.4 1041.5,416.4 1059.5,418.9 1077.5,421.5 1095.5,420.2 1113.5,420.7 1131.5,422.2 1149.5,425.2 1167.5,424.0 1185.5,421.5" fill="none" stroke="#ff8800" stroke-width="1" />
<polyline points="0.0,482.0 15.5,475.2 33.5,475.7 51.5,483.3 69.5,492.1 87.5,497.2 105.5,501.0 123.5,503.0 141.5,499.7 159.5,493.9 177.5,490.9 195.5,490.3 213.5,490.3 231.5,488.8 249.5,487.8 267.5,485.3 285.5,481.3 303.5,470.7 321.5,461.8 339.5,448.5 357.5,437.9 375.5,434.0 393.5,435.3 411.5,442.4 429.5,453.0 447.5,468.1 465.5,482.0 483.5,487.1 501.5,473.2 519.5,474.4 537.5,473.7 555.5,477.0 573.5,480.8 591.5,486.6 609.5,494.6 627.5,496.5 645.5,499.0 663.5,497.5 681.5,489.6 699.5,480.8 717.5,464.4 735.5,453.0 753.5,445.4 771.5,448.0 789.5,453.8 807.5,452.2 825.5,440.9 843.5,426.5 861.5,423.2 879.5,422.2 897.5,420.2 915.5,418.9 933.5,417.2 951.5,417.2 969.5,417.2 987.5,417.2 1005.5,417.2 1023.5,417.2 1041.5,417.2 1059.5,418.2 1077.5,420.2 1095.5,420.7 1113.5,420.2 1131.5,420.7 1149.5,423.2 1167.5,422.2 1185.5,419.7" fill="none" stroke="#ff8800" stroke-width="1" />
<polyline points="0.0,456.0 15.5,461.8 33.5,488.3 51.5,476.2 69.5,490.3 87.5,499.2 105.5,502.2 123.5,503.5 141.5,480.8 159.5,459.8 177.5,494.6 195.5,480.8 213.5,466.9 231.5,461.8 249.5,458.5 267.5,418.9 285.5,459.3 303.5,418.9 321.5,422.2 339.5,439.1 357.5,418.2 375.5,470.2 393.5,466.4 411.5,470.2 429.5,503.0 447.5,505.5 465.5,473.2 483.5,476.2 501.5,462.3 519.5,468.6 537.5,468.6 555.5,458.8 573.5,466.1 591.5,492.1 609.5,500.2 627.5,489.1 645.5,490.9 663.5,482.8 681.5,442.9 699.5,427.8 717.5,418.9 735.5,423.5 753.5,464.4 771.5,466.4 789.5,446.7 807.5,414.6 825.5,425.2 843.5,418.9 861.5,425.2 879.5,425.2 897.5,414.4 915.5,415.1 933.5,421.5 951.5,431.5 969.5,413.1 987.5,423.5 1005.5,420.2 1023.5,418.2 1041.5,422.2 1059.5,441.1 1077.5,418.9 1095.5,411.9 1113.5,451.2 1131.5,435.3 1149.5,441.6 1167.5,432.3 1185.5,427.3" fill="none" stroke="#008000" stroke-width="1" />
<polyline points="0.0,466.9 15.5,460.0 33.5,468.1 51.5,475.7 69.5,485.8 87.5,488.3 105.5,497.2 123.5,501.0 141.5,496.0 159.5,480.8 177.5,478.2 195.5,478.2 213.5,481.3 231.5,471.2 249.5,463.1 267.5,447.2 285.5,446.2 303.5,432.3 321.5,433.6 339.5,427.0 357.5,426.0 375.5,441.6 393.5,450.5 411.5,468.1 429.5,478.2 447.5,492.9 465.5,494.6 483.5,483.3 501.5,470.7 519.5,468.6 537.5,466.9 555.5,466.1 573.5,465.1 591.5,472.7 609.5,485.8 627.5,493.4 645.5,493.4 663.5,487.1 681.5,468.1 699.5,450.5 717.5,430.3 735.5,424.5 753.5,435.3 771.5,451.7 789.5,459.3 807.5,442.9 825.5,427.3 843.5,421.5 861.5,425.2 879.5,424.0 897.5,418.2 915.5,415.9 933.5,417.7 951.5,422.7 969.5,422.2 987.5,423.2 1005.5,418.9 1023.5,421.0 1041.5,420.2 1059.5,427.3 1077.5,427.0 1095.5,424.0 1113.5,427.8 1131.5,432.8 1149.5,439.1 1167.5,431.5 1185.5,422.7" fill="none" stroke="#008000" stroke-width="1" />
<path d="M87 604h1v1h-1zM87 598h1v1h-1zM87 593h1v1h-1zM87 587h1v1h-1zM87 582h1v1h-1zM87 577h1v1h-1zM87 571h1v1h-1zM87 566h1v1h-1zM87 561h1v1h-1zM87 555h1v1h-1zM87 550h1v1h-1zM87 544h1v1h-1zM87 539h1v1h-1zM87 534h1v1h-1zM87 528h1v1h-1zM87 523h1v1h-1zM177 604h1v1h-1zM177 598h1v1h-1zM177 593h1v1h-1zM177 587h1v1h-1zM177 582h1v1h-1zM177 577h1v1h-1zM177 571h1v1h-1zM177 566h1v1h-1zM177 561h1v1h-1zM177 555h1v1h-1zM177 550h1v1h-1zM177 544h1v1h-1zM177 539h1v1h-1zM177 534h1v1h-1zM177 528h1v1h-1zM177 523h1v1h-1zM267 604h1v1h-1zM267 598h1v1h-1zM267 593h1v1h-1zM267 587h1v1h-1zM267 582h1v1h-1zM267 577h1v1h-1zM267 571h1v1h-1zM267 566h1v1h-1zM267 561h1v1h-1zM267 555h1v1h-1zM267 550h1v1h-1zM267 544h1v1h-1zM267 539h1v1h-1zM267 534h1v1h-1zM267 528h1v1h-1zM267 523h1v1h-1zM357 604h1v1h-1zM357 598h1v1h-1zM357 593h1v1h-1zM357 587h1v1h-1zM357 582h1v1h-1zM357 577h1v1h-1zM357 571h1v1h-1zM357 566h1v1h-1zM357 561h1v1h-1zM357 555h1v1h-1zM357 550h1v1h-1zM357 544h1v1h-1zM357 539h1v1h-1zM357 534h1v1h-1zM357 528h1v1h-1zM357 523h1v1h-1zM447 604h1v1h-1zM447 598h1v1h-1zM447 593h1v1h-1zM447 587h1v1h-1zM447 582h1v1h-1zM447 577h1v1h-1zM447 571h1v1h-1zM447 566h1v1h-1zM447 561h1v1h-1zM447 555h1v1h-1zM447 550h1v1h-1zM447 544h1v1h-1zM447 539h1v1h-1zM447 534h1v1h-1zM447 528h1v1h-1zM447 523h1v1h-1zM537 604h1v1h-1zM537 598h1v1h-1zM537 593h1v1h-1zM537 587h1v1h-1zM537 582h1v1h-1zM537 577h1v1h-1zM537 571h1v1h-1zM537 566h1v1h-1zM537 561h1v1h-1zM537 555h1v1h-1zM537 550h1v1h-1zM537 544h1v1h-1zM537 539h1v1h-1zM537 534h1v1h-1zM537 528h1v1h-1zM537 523h1v1h-1zM627 604h1v1h-1zM627 598h1v1h-1zM627 593h1v1h-1zM627 587h1v1h-1zM627 582h1v1h-1zM627 577h1v1h-1zM627 571h1v1h-1zM627 566h1v1h-1zM627 561h1v1h-1zM627 555h1v1h-1zM627 550h1v1h-1zM627 544h1v1h-1zM627 539h1v1h-1zM627 534h1v1h-1zM627 528h1v1h-1zM627 523h1v1h-1zM717 604h1v1h-1zM717 598h1v1h-1zM717 593h1v1h-1zM717 587h1v1h-1zM717 582h1v1h-1zM717 577h1v1h-1zM717 571h1v1h-1zM717 566h1v1h-1zM717 561h1v1h-1zM717 555h1v1h-1zM717 550h1v1h-1zM717 544h1v1h-1zM717 539h1v1h-1zM717 534h1v1h-1zM717 528h1v1h-1zM717 523h1v1h-1zM789 604h1v1h-1zM789 598h1v1h-1zM789 593h1v1h-1zM789 587h1v1h-1zM789 582h1v1h-1zM789 577h1v1h-1zM789 571h1v1h-1zM789 566h1v1h-1zM789 561h1v1h-1zM789 555h1v1h-1zM789 550h1v1h-1zM789 544h1v1h-1zM789 539h1v1h-1zM789 534h1v1h-1zM789 528h1v1h-1zM789 523h1v1h-1zM879 604h1v1h-1zM879 598h1v1h-1zM879 593h1v1h-1zM879 587h1v1h-1zM879 582h1v1h-1zM879 577h1v1h-1zM879 571h1v1h-1zM879 566h1v1h-1zM879 561h1v1h-1zM879 555h1v1h-1zM879 550h1v1h-1zM879 544h1v1h-1zM879 539h1v1h-1zM879 534h1v1h-1zM879 528h1v1h-1zM879 523h1v1h-1zM969 604h1v1h-1zM969 598h1v1h-1zM969 593h1v1h-1zM969 587h1v1h-1zM969 582h1v1h-1zM969 577h1v1h-1zM969 571h1v1h-1zM969 566h1v1h-1zM969 561h1v1h-1zM969 555h1v1h-1zM969 550h1v1h-1zM969 544h1v1h-1zM969 539h1v1h-1zM969 534h1v1h-1zM969 528h1v1h-1zM969 523h1v1h-1zM1059 604h1v1h-1zM1059 598h1v1h-1zM1059 593h1v1h-1zM1059 587h1v1h-1zM1059 582h1v1h-1zM1059 577h1v1h-1zM1059 571h1v1h-1zM1059 566h1v1h-1zM1059 561h1v1h-1zM1059 555h1v1h-1zM1059 550h1v1h-1zM1059 544h1v1h-1zM1059 539h1v1h-1zM1059 534h1v1h-1zM1059 528h1v1h-1zM1059 523h1v1h-1zM1149 604h1v1h-1zM1149 598h1v1h-1zM1149 593h1v1h-1zM1149 587h1v1h-1zM1149 582h1v1h-1zM1149 577h1v1h-1zM1149 571h1v1h-1zM1149 566h1v1h-1zM1149 561h1v1h-1zM1149 555h1v1h-1zM1149 550h1v1h-1zM1149 544h1v1h-1zM1149 539h1v1h-1zM1149 534h1v1h-1zM1149 528h1v1h-1zM1149 523h1v1h-1zM15 523h1v1h-1zM33 523h1v1h-1zM51 523h1v1h-1zM69 523h1v1h-1zM87 523h1v1h-1zM105 523h1v1h-1zM123 523h1v1h-1zM141 523h1v1h-1zM159 523h1v1h-1zM177 523h1v1h-1zM195 523h1v1h-1zM213 523h1v1h-1zM231 523h1v1h-1zM249 523h1v1h-1zM267 523h1v1h-1zM285 523h1v1h-1zM303 523h1v1h-1zM321 523h1v1h-1zM339 523h1v1h-1zM357 523h1v1h-1zM375 523h1v1h-1zM393 523h1v1h-1zM411 523h1v1h-1zM429 523h1v1h-1zM447 523h1v1h-1zM465 523h1v1h-1zM483 523h1v1h-1zM501 523h1v1h-1zM519 523h1v1h-1zM537 523h1v1h-1zM555 523h1v1h-1zM573 523h1v1h-1zM591 523h1v1h-1zM609 523h1v1h-1zM627 523h1v1h-1zM645 523h1v1h-1zM663 523h1v1h-1zM681 523h1v1h-1zM699 523h1v1h-1zM717 523h1v1h-1zM735 523h1v1h-1zM753 523h1v1h-1zM771 523h1v1h-1zM789 523h1v1h-1zM807 523h1v1h-1zM825 523h1v1h-1zM843 523h1v1h-1zM861 523h1v1h-1zM879 523h1v1h-1zM897 523h1v1h-1zM915 523h1v1h-1zM933 523h1v1h-1zM951 523h1v1h-1zM969 523h1v1h-1zM987 523h1v1h-1zM1005 523h1v1h-1zM1023 523h1v1h-1zM1041 523h1v1h-1zM1059 523h1v1h-1zM1077 523h1v1h-1zM1095 523h1v1h-1zM1113 523h1v1h-1zM1131 523h1v1h-1zM1149 523h1v1h-1zM1167 523h1v1h-1zM1185 523h1v1h-1zM15 577h1v1h-1zM33 577h1v1h-1zM51 577h1v1h-1zM69 577h1v1h-1zM87 577h1v1h-1zM105 577h1v1h-1zM123 577h1v1h-1zM141 577h1v1h-1zM159 577h1v1h-1zM177 577h1v1h-1zM195 577h1v1h-1zM213 577h1v1h-1zM231 577h1v1h-1zM249 577h1v1h-1zM267 577h1v1h-1zM285 577h1v1h-1zM303 577h1v1h-1zM321 577h1v1h-1zM339 577h1v1h-1zM357 577h1v1h-1zM375 577h1v1h-1zM393 577h1v1h-1zM411 577h1v1h-1zM429 577h1v1h-1zM447 577h1v1h-1zM465 577h1v1h-1zM483 577h1v1h-1zM501 577h1v1h-1zM519 577h1v1h-1zM537 577h1v1h-1zM555 577h1v1h-1zM573 577h1v1h-1zM591 577h1v1h-1zM609 577h1v1h-1zM627 577h1v1h-1zM645 577h1v1h-1zM663 577h1v1h-1zM681 577h1v1h-1zM699 577h1v1h-1zM717 577h1v1h-1zM735 577h1v1h-1zM753 577h1v1h-1zM771 577h1v1h-1zM789 577h1v1h-1zM807 577h1v1h-1zM825 577h1v1h-1zM843 577h1v1h-1zM861 577h1v1h-1zM879 577h1v1h-1zM897 577h1v1h-1zM915 577h1v1h-1zM933 577h1v1h-1zM951 577h1v1h-1zM969 577h1v1h-1zM987 577h1v1h-1zM1005 577h1v1h-1zM1023 577h1v1h-1zM1041 577h1v1h-1zM1059 577h1v1h-1zM1077 577h1v1h-1zM1095 577h1v1h-1zM1113 577h1v1h-1zM1131 577h1v1h-1zM1149 577h1v1h-1zM1167 577h1v1h-1zM1185 577h1v1h-1zM15 604h1v1h-1zM33 604h1v1h-1zM51 604h1v1h-1zM69 604h1v1h-1zM87 604h1v1h-1zM105 604h1v1h-1zM123 604h1v1h-1zM141 604h1v1h-1zM159 604h1v1h-1zM177 604h1v1h-1zM195 604h1v1h-1zM213 604h1v1h-1zM231 604h1v1h-1zM249 604h1v1h-1zM267 604h1v1h-1zM285 604h1v1h-1zM303 604h1v1h-1zM321 604h1v1h-1zM339 604h1v1h-1zM357 604h1v1h-1zM375 604h1v1h-1zM393 604h1v1h-1zM411 604h1v1h-1zM429 604h1v1h-1zM447 604h1v1h-1zM465 604h1v1h-1zM483 604h1v1h-1zM501 604h1v1h-1zM519 604h1v1h-1zM537 604h1v1h-1zM555 604h1v1h-1zM573 604h1v1h-1zM591 604h1v1h-1zM609 604h1v1h-1zM627 604h1v1h-1zM645 604h1v1h-1zM663 604h1v1h-1zM681 604h1v1h-1zM699 604h1v1h-1zM717 604h1v1h-1zM735 604h1v1h-1zM753 604h1v1h-1zM771 604h1v1h-1zM789 604h1v1h-1zM807 604h1v1h-1zM825 604h1v1h-1zM843 604h1v1h-1zM861 604h1v1h-1zM879 604h1v1h-1zM897 604h1v1h-1zM915 604h1v1h-1zM933 604h1v1h-1zM951 604h1v1h-1zM969 604h1v1h-1zM987 604h1v1h-1zM1005 604h1v1h-1zM1023 604h1v1h-1zM1041 604h1v1h-1zM1059 604h1v1h-1zM1077 604h1v1h-1zM1095 604h1v1h-1zM1113 604h1v1h-1zM1131 604h1v1h-1zM1149 604h1v1h-1zM1167 604h1v1h-1zM1185 604h1v1h-1z" fill="#000"/>
<rect x="1" y="604" width="2" height="1" fill="#000" />
<rect x="1213" y="604" width="2" height="1" fill="#000" />
<rect x="1" y="598" width="2" height="1" fill="#000" />
<rect x="1213" y="598" width="2" height="1" fill="#000" />
<rect x="1" y="593" width="2" height="1" fill="#000" />
<rect x="1213" y="593" width="2" height="1" fill="#000" />
<rect x="1" y="587" width="2" height="1" fill="#000" />
<rect x="1213" y="587" width="2" height="1" fill="#000" />
<rect x="1" y="582" width="2" height="1" fill="#000" />
<rect x="1213" y="582" width="2" height="1" fill="#000" />
<rect x="1" y="577" width="2" height="1" fill="#000" />
<rect x="1213" y="577" width="2" height="1" fill="#000" />
<rect x="1" y="571" width="2" height="1" fill="#000" />
<rect x="1213" y="571" width="2" height="1" fill="#000" />
<rect x="1" y="566" width="2" height="1" fill="#000" />
<rect x="1213" y="566" width="2" height="1" fill="#000" />
<rect x="1" y="561" width="2" height="1" fill="#000" />
<rect x="1213" y="561" width="2" height="1" fill="#000" />
<rect x="1" y="555" width="2" height="1" fill="#000" />
<rect x="1213" y="555" width="2" height="1" fill="#000" />
<rect x="1" y="550" width="2" height="1" fill="#000" />
<rect x="1213" y="550" width="2" height="1" fill="#000" />
<rect x="1" y="544" width="2" height="1" fill="#000" />
<rect x="1213" y="544" width="2" height="1" fill="#000" />
<rect x="1" y="539" width="2" height="1" fill="#000" />
<rect x="1213" y="539" width="2" height="1" fill="#000" />
<rect x="1" y="534" width="2" height="1" fill="#000" />
<rect x="1213" y="534" width="2" height="1" fill="#000" />
<rect x="1" y="528" width="2" height="1" fill="#000" />
<rect x="1213" y="528" width="2" height="1" fill="#000" />
<rect x="1" y="523" width="2" height="1" fill="#000" />
<rect x="1213" y="523" width="2" height="1" fill="#000" />
<rect x="1" y="523" width="4" height="1" fill="#000" />
<rect x="1211" y="523" width="4" height="1" fill="#000" />
<rect x="1" y="550" width="4" height="1" fill="#000" />
<rect x="1211" y="550" width="4" height="1" fill="#000" />
<rect x="1" y="577" width="4" height="1" fill="#000" />
<rect x="1211" y="577" width="4" height="1" fill="#000" />
<rect x="1" y="604" width="4" height="1" fill="#000" />
<rect x="1211" y="604" width="4" height="1" fill="#000" />
<rect x="2" y="516" width="34" height="11" fill="#6a6a6a" />
<rect x="1" y="514" width="33" height="11" fill="#ffffff" />
<text x="2" y="523" font-size="9.7" font-weight="bold" fill="#000" textLength="29.5" lengthAdjust="spacingAndGlyphs">MACD</text>
<polyline points="0.0,572.9 15.0,573.4 33.0,576.7 87.0,581.2 123.0,585.5 136.0,586.7 159.0,586.7 177.0,587.5 202.0,587.5 213.0,586.2 231.0,585.5 249.0,585.0 267.0,581.2 285.0,580.0 303.0,576.0 321.0,572.9 339.0,569.8 357.0,567.1 375.0,565.8 393.0,565.0 411.0,564.3 429.0,565.8 447.0,570.5 474.0,570.5 475.0,571.5 492.0,571.5 493.0,570.5 582.0,570.5 583.0,571.5 653.0,571.5 663.0,571.5 681.0,569.1 699.0,566.6 717.0,565.3 735.0,563.5 753.0,562.8 771.0,562.3 789.0,561.0 807.0,557.0 825.0,553.9 843.0,551.4 861.0,548.4 879.0,546.4 897.0,543.8 915.0,543.3 951.0,540.1 987.0,536.3 1023.0,533.0 1059.0,531.2 1095.0,529.5 1104.0,529.5 1113.0,530.5 1131.0,530.0 1149.0,529.5 1185.5,529.5" fill="none" stroke="#0000ff" stroke-width="1" />
<polyline points="0.0,567.8 33.0,571.1 87.0,574.6 123.0,577.9 159.0,581.2 195.0,583.5 231.0,584.7 249.0,584.7 267.0,583.0 285.0,582.2 303.0,581.2 321.0,580.0 357.0,575.9 393.0,572.1 411.0,571.1 429.0,570.5 447.0,570.5 600.0,570.5 663.0,570.5 681.0,570.5 699.0,569.8 717.0,568.6 735.0,567.3 753.0,566.6 771.0,565.3 789.0,564.5 807.0,562.8 825.0,561.0 843.0,559.0 861.0,557.0 879.0,554.7 897.0,552.7 915.0,550.9 951.0,546.4 987.0,543.1 1023.0,539.6 1059.0,537.5 1095.0,535.0 1131.0,532.5 1149.0,531.7 1185.5,531.2" fill="none" stroke="#ff0000" stroke-width="1" />
<rect x="11" y="550" width="9" height="4" fill="#008000" />
<rect x="29" y="550" width="9" height="4" fill="#008000" />
<rect x="47" y="550" width="9" height="4" fill="#008000" />
<rect x="65" y="550" width="9" height="4" fill="#008000" />
<rect x="83" y="550" width="9" height="5" fill="#008000" />
<rect x="101" y="550" width="9" height="6" fill="#008000" />
<rect x="119" y="550" width="9" height="7" fill="#008000" />
<rect x="137" y="550" width="9" height="6" fill="#008000" />
<rect x="155" y="550" width="9" height="4" fill="#008000" />
<rect x="173" y="550" width="9" height="4" fill="#008000" />
<rect x="191" y="550" width="9" height="4" fill="#008000" />
<rect x="209" y="550" width="9" height="2" fill="#008000" />
<rect x="227" y="550" width="9" height="1" fill="#008000" />
<rect x="245" y="549" width="9" height="1" fill="#008000" />
<rect x="263" y="547" width="9" height="3" fill="#008000" />
<rect x="281" y="547" width="9" height="3" fill="#008000" />
<rect x="299" y="544" width="9" height="6" fill="#008000" />
<rect x="317" y="543" width="9" height="7" fill="#008000" />
<rect x="335" y="542" width="9" height="8" fill="#008000" />
<rect x="353" y="541" width="9" height="9" fill="#008000" />
<rect x="371" y="542" width="9" height="8" fill="#008000" />
<rect x="389" y="543" width="9" height="7" fill="#008000" />
<rect x="407" y="543" width="9" height="7" fill="#008000" />
<rect x="425" y="546" width="9" height="4" fill="#008000" />
<rect x="515" y="549" width="9" height="1" fill="#008000" />
<rect x="605" y="550" width="9" height="1" fill="#008000" />
<rect x="623" y="550" width="9" height="1" fill="#008000" />
<rect x="677" y="548" width="9" height="2" fill="#008000" />
<rect x="695" y="547" width="9" height="3" fill="#008000" />
<rect x="713" y="545" width="9" height="5" fill="#008000" />
<rect x="731" y="545" width="9" height="5" fill="#008000" />
<rect x="749" y="545" width="9" height="5" fill="#008000" />
<rect x="767" y="546" width="9" height="4" fill="#008000" />
<rect x="785" y="546" width="9" height="4" fill="#008000" />
<rect x="803" y="544" width="9" height="6" fill="#008000" />
<rect x="821" y="542" width="9" height="8" fill="#008000" />
<rect x="839" y="541" width="9" height="9" fill="#008000" />
<rect x="857" y="541" width="9" height="9" fill="#008000" />
<rect x="875" y="541" width="9" height="9" fill="#008000" />
<rect x="893" y="540" width="9" height="10" fill="#008000" />
<rect x="911" y="541" width="9" height="9" fill="#008000" />
<rect x="929" y="541" width="9" height="9" fill="#008000" />
<rect x="947" y="542" width="9" height="8" fill="#008000" />
<rect x="965" y="542" width="9" height="8" fill="#008000" />
<rect x="983" y="543" width="9" height="7" fill="#008000" />
<rect x="1001" y="543" width="9" height="7" fill="#008000" />
<rect x="1019" y="543" width="9" height="7" fill="#008000" />
<rect x="1037" y="543" width="9" height="7" fill="#008000" />
<rect x="1055" y="544" width="9" height="6" fill="#008000" />
<rect x="1073" y="544" width="9" height="6" fill="#008000" />
<rect x="1091" y="544" width="9" height="6" fill="#008000" />
<rect x="1109" y="546" width="9" height="4" fill="#008000" />
<rect x="1127" y="546" width="9" height="4" fill="#008000" />
<rect x="1145" y="547" width="9" height="3" fill="#008000" />
<rect x="1163" y="548" width="9" height="2" fill="#008000" />
<rect x="1181" y="548" width="9" height="2" fill="#008000" />
<path d="M87 701h1v1h-1zM87 697h1v1h-1zM87 693h1v1h-1zM87 689h1v1h-1zM87 685h1v1h-1zM87 681h1v1h-1zM87 677h1v1h-1zM87 673h1v1h-1zM87 669h1v1h-1zM87 665h1v1h-1zM87 660h1v1h-1zM87 656h1v1h-1zM87 652h1v1h-1zM87 648h1v1h-1zM87 644h1v1h-1zM87 640h1v1h-1zM87 636h1v1h-1zM87 632h1v1h-1zM87 628h1v1h-1zM87 624h1v1h-1zM177 701h1v1h-1zM177 697h1v1h-1zM177 693h1v1h-1zM177 689h1v1h-1zM177 685h1v1h-1zM177 681h1v1h-1zM177 677h1v1h-1zM177 673h1v1h-1zM177 669h1v1h-1zM177 665h1v1h-1zM177 660h1v1h-1zM177 656h1v1h-1zM177 652h1v1h-1zM177 648h1v1h-1zM177 644h1v1h-1zM177 640h1v1h-1zM177 636h1v1h-1zM177 632h1v1h-1zM177 628h1v1h-1zM177 624h1v1h-1zM267 701h1v1h-1zM267 697h1v1h-1zM267 693h1v1h-1zM267 689h1v1h-1zM267 685h1v1h-1zM267 681h1v1h-1zM267 677h1v1h-1zM267 673h1v1h-1zM267 669h1v1h-1zM267 665h1v1h-1zM267 660h1v1h-1zM267 656h1v1h-1zM267 652h1v1h-1zM267 648h1v1h-1zM267 644h1v1h-1zM267 640h1v1h-1zM267 636h1v1h-1zM267 632h1v1h-1zM267 628h1v1h-1zM267 624h1v1h-1zM357 701h1v1h-1zM357 697h1v1h-1zM357 693h1v1h-1zM357 689h1v1h-1zM357 685h1v1h-1zM357 681h1v1h-1zM357 677h1v1h-1zM357 673h1v1h-1zM357 669h1v1h-1zM357 665h1v1h-1zM357 660h1v1h-1zM357 656h1v1h-1zM357 652h1v1h-1zM357 648h1v1h-1zM357 644h1v1h-1zM357 640h1v1h-1zM357 636h1v1h-1zM357 632h1v1h-1zM357 628h1v1h-1zM357 624h1v1h-1zM447 701h1v1h-1zM447 697h1v1h-1zM447 693h1v1h-1zM447 689h1v1h-1zM447 685h1v1h-1zM447 681h1v1h-1zM447 677h1v1h-1zM447 673h1v1h-1zM447 669h1v1h-1zM447 665h1v1h-1zM447 660h1v1h-1zM447 656h1v1h-1zM447 652h1v1h-1zM447 648h1v1h-1zM447 644h1v1h-1zM447 640h1v1h-1zM447 636h1v1h-1zM447 632h1v1h-1zM447 628h1v1h-1zM447 624h1v1h-1zM537 701h1v1h-1zM537 697h1v1h-1zM537 693h1v1h-1zM537 689h1v1h-1zM537 685h1v1h-1zM537 681h1v1h-1zM537 677h1v1h-1zM537 673h1v1h-1zM537 669h1v1h-1zM537 665h1v1h-1zM537 660h1v1h-1zM537 656h1v1h-1zM537 652h1v1h-1zM537 648h1v1h-1zM537 644h1v1h-1zM537 640h1v1h-1zM537 636h1v1h-1zM537 632h1v1h-1zM537 628h1v1h-1zM537 624h1v1h-1zM627 701h1v1h-1zM627 697h1v1h-1zM627 693h1v1h-1zM627 689h1v1h-1zM627 685h1v1h-1zM627 681h1v1h-1zM627 677h1v1h-1zM627 673h1v1h-1zM627 669h1v1h-1zM627 665h1v1h-1zM627 660h1v1h-1zM627 656h1v1h-1zM627 652h1v1h-1zM627 648h1v1h-1zM627 644h1v1h-1zM627 640h1v1h-1zM627 636h1v1h-1zM627 632h1v1h-1zM627 628h1v1h-1zM627 624h1v1h-1zM717 701h1v1h-1zM717 697h1v1h-1zM717 693h1v1h-1zM717 689h1v1h-1zM717 685h1v1h-1zM717 681h1v1h-1zM717 677h1v1h-1zM717 673h1v1h-1zM717 669h1v1h-1zM717 665h1v1h-1zM717 660h1v1h-1zM717 656h1v1h-1zM717 652h1v1h-1zM717 648h1v1h-1zM717 644h1v1h-1zM717 640h1v1h-1zM717 636h1v1h-1zM717 632h1v1h-1zM717 628h1v1h-1zM717 624h1v1h-1zM789 701h1v1h-1zM789 697h1v1h-1zM789 693h1v1h-1zM789 689h1v1h-1zM789 685h1v1h-1zM789 681h1v1h-1zM789 677h1v1h-1zM789 673h1v1h-1zM789 669h1v1h-1zM789 665h1v1h-1zM789 660h1v1h-1zM789 656h1v1h-1zM789 652h1v1h-1zM789 648h1v1h-1zM789 644h1v1h-1zM789 640h1v1h-1zM789 636h1v1h-1zM789 632h1v1h-1zM789 628h1v1h-1zM789 624h1v1h-1zM879 701h1v1h-1zM879 697h1v1h-1zM879 693h1v1h-1zM879 689h1v1h-1zM879 685h1v1h-1zM879 681h1v1h-1zM879 677h1v1h-1zM879 673h1v1h-1zM879 669h1v1h-1zM879 665h1v1h-1zM879 660h1v1h-1zM879 656h1v1h-1zM879 652h1v1h-1zM879 648h1v1h-1zM879 644h1v1h-1zM879 640h1v1h-1zM879 636h1v1h-1zM879 632h1v1h-1zM879 628h1v1h-1zM879 624h1v1h-1zM969 701h1v1h-1zM969 697h1v1h-1zM969 693h1v1h-1zM969 689h1v1h-1zM969 685h1v1h-1zM969 681h1v1h-1zM969 677h1v1h-1zM969 673h1v1h-1zM969 669h1v1h-1zM969 665h1v1h-1zM969 660h1v1h-1zM969 656h1v1h-1zM969 652h1v1h-1zM969 648h1v1h-1zM969 644h1v1h-1zM969 640h1v1h-1zM969 636h1v1h-1zM969 632h1v1h-1zM969 628h1v1h-1zM969 624h1v1h-1zM1059 701h1v1h-1zM1059 697h1v1h-1zM1059 693h1v1h-1zM1059 689h1v1h-1zM1059 685h1v1h-1zM1059 681h1v1h-1zM1059 677h1v1h-1zM1059 673h1v1h-1zM1059 669h1v1h-1zM1059 665h1v1h-1zM1059 660h1v1h-1zM1059 656h1v1h-1zM1059 652h1v1h-1zM1059 648h1v1h-1zM1059 644h1v1h-1zM1059 640h1v1h-1zM1059 636h1v1h-1zM1059 632h1v1h-1zM1059 628h1v1h-1zM1059 624h1v1h-1zM1149 701h1v1h-1zM1149 697h1v1h-1zM1149 693h1v1h-1zM1149 689h1v1h-1zM1149 685h1v1h-1zM1149 681h1v1h-1zM1149 677h1v1h-1zM1149 673h1v1h-1zM1149 669h1v1h-1zM1149 665h1v1h-1zM1149 660h1v1h-1zM1149 656h1v1h-1zM1149 652h1v1h-1zM1149 648h1v1h-1zM1149 644h1v1h-1zM1149 640h1v1h-1zM1149 636h1v1h-1zM1149 632h1v1h-1zM1149 628h1v1h-1zM1149 624h1v1h-1zM15 685h1v1h-1zM33 685h1v1h-1zM51 685h1v1h-1zM69 685h1v1h-1zM87 685h1v1h-1zM105 685h1v1h-1zM123 685h1v1h-1zM141 685h1v1h-1zM159 685h1v1h-1zM177 685h1v1h-1zM195 685h1v1h-1zM213 685h1v1h-1zM231 685h1v1h-1zM249 685h1v1h-1zM267 685h1v1h-1zM285 685h1v1h-1zM303 685h1v1h-1zM321 685h1v1h-1zM339 685h1v1h-1zM357 685h1v1h-1zM375 685h1v1h-1zM393 685h1v1h-1zM411 685h1v1h-1zM429 685h1v1h-1zM447 685h1v1h-1zM465 685h1v1h-1zM483 685h1v1h-1zM501 685h1v1h-1zM519 685h1v1h-1zM537 685h1v1h-1zM555 685h1v1h-1zM573 685h1v1h-1zM591 685h1v1h-1zM609 685h1v1h-1zM627 685h1v1h-1zM645 685h1v1h-1zM663 685h1v1h-1zM681 685h1v1h-1zM699 685h1v1h-1zM717 685h1v1h-1zM735 685h1v1h-1zM753 685h1v1h-1zM771 685h1v1h-1zM789 685h1v1h-1zM807 685h1v1h-1zM825 685h1v1h-1zM843 685h1v1h-1zM861 685h1v1h-1zM879 685h1v1h-1zM897 685h1v1h-1zM915 685h1v1h-1zM933 685h1v1h-1zM951 685h1v1h-1zM969 685h1v1h-1zM987 685h1v1h-1zM1005 685h1v1h-1zM1023 685h1v1h-1zM1041 685h1v1h-1zM1059 685h1v1h-1zM1077 685h1v1h-1zM1095 685h1v1h-1zM1113 685h1v1h-1zM1131 685h1v1h-1zM1149 685h1v1h-1zM1167 685h1v1h-1zM1185 685h1v1h-1zM15 665h1v1h-1zM33 665h1v1h-1zM51 665h1v1h-1zM69 665h1v1h-1zM87 665h1v1h-1zM105 665h1v1h-1zM123 665h1v1h-1zM141 665h1v1h-1zM159 665h1v1h-1zM177 665h1v1h-1zM195 665h1v1h-1zM213 665h1v1h-1zM231 665h1v1h-1zM249 665h1v1h-1zM267 665h1v1h-1zM285 665h1v1h-1zM303 665h1v1h-1zM321 665h1v1h-1zM339 665h1v1h-1zM357 665h1v1h-1zM375 665h1v1h-1zM393 665h1v1h-1zM411 665h1v1h-1zM429 665h1v1h-1zM447 665h1v1h-1zM465 665h1v1h-1zM483 665h1v1h-1zM501 665h1v1h-1zM519 665h1v1h-1zM537 665h1v1h-1zM555 665h1v1h-1zM573 665h1v1h-1zM591 665h1v1h-1zM609 665h1v1h-1zM627 665h1v1h-1zM645 665h1v1h-1zM663 665h1v1h-1zM681 665h1v1h-1zM699 665h1v1h-1zM717 665h1v1h-1zM735 665h1v1h-1zM753 665h1v1h-1zM771 665h1v1h-1zM789 665h1v1h-1zM807 665h1v1h-1zM825 665h1v1h-1zM843 665h1v1h-1zM861 665h1v1h-1zM879 665h1v1h-1zM897 665h1v1h-1zM915 665h1v1h-1zM933 665h1v1h-1zM951 665h1v1h-1zM969 665h1v1h-1zM987 665h1v1h-1zM1005 665h1v1h-1zM1023 665h1v1h-1zM1041 665h1v1h-1zM1059 665h1v1h-1zM1077 665h1v1h-1zM1095 665h1v1h-1zM1113 665h1v1h-1zM1131 665h1v1h-1zM1149 665h1v1h-1zM1167 665h1v1h-1zM1185 665h1v1h-1zM15 644h1v1h-1zM33 644h1v1h-1zM51 644h1v1h-1zM69 644h1v1h-1zM87 644h1v1h-1zM105 644h1v1h-1zM123 644h1v1h-1zM141 644h1v1h-1zM159 644h1v1h-1zM177 644h1v1h-1zM195 644h1v1h-1zM213 644h1v1h-1zM231 644h1v1h-1zM249 644h1v1h-1zM267 644h1v1h-1zM285 644h1v1h-1zM303 644h1v1h-1zM321 644h1v1h-1zM339 644h1v1h-1zM357 644h1v1h-1zM375 644h1v1h-1zM393 644h1v1h-1zM411 644h1v1h-1zM429 644h1v1h-1zM447 644h1v1h-1zM465 644h1v1h-1zM483 644h1v1h-1zM501 644h1v1h-1zM519 644h1v1h-1zM537 644h1v1h-1zM555 644h1v1h-1zM573 644h1v1h-1zM591 644h1v1h-1zM609 644h1v1h-1zM627 644h1v1h-1zM645 644h1v1h-1zM663 644h1v1h-1zM681 644h1v1h-1zM699 644h1v1h-1zM717 644h1v1h-1zM735 644h1v1h-1zM753 644h1v1h-1zM771 644h1v1h-1zM789 644h1v1h-1zM807 644h1v1h-1zM825 644h1v1h-1zM843 644h1v1h-1zM861 644h1v1h-1zM879 644h1v1h-1zM897 644h1v1h-1zM915 644h1v1h-1zM933 644h1v1h-1zM951 644h1v1h-1zM969 644h1v1h-1zM987 644h1v1h-1zM1005 644h1v1h-1zM1023 644h1v1h-1zM1041 644h1v1h-1zM1059 644h1v1h-1zM1077 644h1v1h-1zM1095 644h1v1h-1zM1113 644h1v1h-1zM1131 644h1v1h-1zM1149 644h1v1h-1zM1167 644h1v1h-1zM1185 644h1v1h-1zM15 624h1v1h-1zM33 624h1v1h-1zM51 624h1v1h-1zM69 624h1v1h-1zM87 624h1v1h-1zM105 624h1v1h-1zM123 624h1v1h-1zM141 624h1v1h-1zM159 624h1v1h-1zM177 624h1v1h-1zM195 624h1v1h-1zM213 624h1v1h-1zM231 624h1v1h-1zM249 624h1v1h-1zM267 624h1v1h-1zM285 624h1v1h-1zM303 624h1v1h-1zM321 624h1v1h-1zM339 624h1v1h-1zM357 624h1v1h-1zM375 624h1v1h-1zM393 624h1v1h-1zM411 624h1v1h-1zM429 624h1v1h-1zM447 624h1v1h-1zM465 624h1v1h-1zM483 624h1v1h-1zM501 624h1v1h-1zM519 624h1v1h-1zM537 624h1v1h-1zM555 624h1v1h-1zM573 624h1v1h-1zM591 624h1v1h-1zM609 624h1v1h-1zM627 624h1v1h-1zM645 624h1v1h-1zM663 624h1v1h-1zM681 624h1v1h-1zM699 624h1v1h-1zM717 624h1v1h-1zM735 624h1v1h-1zM753 624h1v1h-1zM771 624h1v1h-1zM789 624h1v1h-1zM807 624h1v1h-1zM825 624h1v1h-1zM843 624h1v1h-1zM861 624h1v1h-1zM879 624h1v1h-1zM897 624h1v1h-1zM915 624h1v1h-1zM933 624h1v1h-1zM951 624h1v1h-1zM969 624h1v1h-1zM987 624h1v1h-1zM1005 624h1v1h-1zM1023 624h1v1h-1zM1041 624h1v1h-1zM1059 624h1v1h-1zM1077 624h1v1h-1zM1095 624h1v1h-1zM1113 624h1v1h-1zM1131 624h1v1h-1zM1149 624h1v1h-1zM1167 624h1v1h-1zM1185 624h1v1h-1z" fill="#000"/>
<rect x="1" y="701" width="2" height="1" fill="#000" />
<rect x="1213" y="701" width="2" height="1" fill="#000" />
<rect x="1" y="697" width="2" height="1" fill="#000" />
<rect x="1213" y="697" width="2" height="1" fill="#000" />
<rect x="1" y="693" width="2" height="1" fill="#000" />
<rect x="1213" y="693" width="2" height="1" fill="#000" />
<rect x="1" y="689" width="2" height="1" fill="#000" />
<rect x="1213" y="689" width="2" height="1" fill="#000" />
<rect x="1" y="685" width="2" height="1" fill="#000" />
<rect x="1213" y="685" width="2" height="1" fill="#000" />
<rect x="1" y="681" width="2" height="1" fill="#000" />
<rect x="1213" y="681" width="2" height="1" fill="#000" />
<rect x="1" y="677" width="2" height="1" fill="#000" />
<rect x="1213" y="677" width="2" height="1" fill="#000" />
<rect x="1" y="673" width="2" height="1" fill="#000" />
<rect x="1213" y="673" width="2" height="1" fill="#000" />
<rect x="1" y="669" width="2" height="1" fill="#000" />
<rect x="1213" y="669" width="2" height="1" fill="#000" />
<rect x="1" y="665" width="2" height="1" fill="#000" />
<rect x="1213" y="665" width="2" height="1" fill="#000" />
<rect x="1" y="660" width="2" height="1" fill="#000" />
<rect x="1213" y="660" width="2" height="1" fill="#000" />
<rect x="1" y="656" width="2" height="1" fill="#000" />
<rect x="1213" y="656" width="2" height="1" fill="#000" />
<rect x="1" y="652" width="2" height="1" fill="#000" />
<rect x="1213" y="652" width="2" height="1" fill="#000" />
<rect x="1" y="648" width="2" height="1" fill="#000" />
<rect x="1213" y="648" width="2" height="1" fill="#000" />
<rect x="1" y="644" width="2" height="1" fill="#000" />
<rect x="1213" y="644" width="2" height="1" fill="#000" />
<rect x="1" y="640" width="2" height="1" fill="#000" />
<rect x="1213" y="640" width="2" height="1" fill="#000" />
<rect x="1" y="636" width="2" height="1" fill="#000" />
<rect x="1213" y="636" width="2" height="1" fill="#000" />
<rect x="1" y="632" width="2" height="1" fill="#000" />
<rect x="1213" y="632" width="2" height="1" fill="#000" />
<rect x="1" y="628" width="2" height="1" fill="#000" />
<rect x="1213" y="628" width="2" height="1" fill="#000" />
<rect x="1" y="624" width="2" height="1" fill="#000" />
<rect x="1213" y="624" width="2" height="1" fill="#000" />
<rect x="1" y="685" width="4" height="1" fill="#000" />
<rect x="1211" y="685" width="4" height="1" fill="#000" />
<rect x="1" y="665" width="4" height="1" fill="#000" />
<rect x="1211" y="665" width="4" height="1" fill="#000" />
<rect x="1" y="644" width="4" height="1" fill="#000" />
<rect x="1211" y="644" width="4" height="1" fill="#000" />
<rect x="1" y="624" width="4" height="1" fill="#000" />
<rect x="1211" y="624" width="4" height="1" fill="#000" />
<rect x="2" y="616" width="26" height="11" fill="#6a6a6a" />
<rect x="1" y="614" width="25" height="11" fill="#ffffff" />
<text x="2" y="623" font-size="9.7" font-weight="bold" fill="#000" textLength="21" lengthAdjust="spacingAndGlyphs">ADX</text>
<rect x="1" y="706" width="1214" height="1" fill="#808080" />
<polyline points="0.0,635.5 15.5,644.1 33.5,639.0 51.5,635.5 69.5,636.0 87.5,636.0 105.5,632.8 123.5,630.2 141.5,628.3 159.5,649.8 177.5,657.8 195.5,661.0 213.5,669.6 231.5,669.6 249.5,662.4 267.5,666.4 285.5,666.4 303.5,663.7 321.5,654.3 339.5,648.2 357.5,645.5 375.5,665.6 393.5,665.6 411.5,675.3 429.5,663.2 447.5,652.5 465.5,645.5 483.5,667.0 501.5,678.5 519.5,682.5 537.5,673.9 555.5,668.3 573.5,674.5 591.5,674.5 609.5,667.8 627.5,664.5 645.5,657.0 663.5,671.0 681.5,663.7 699.5,653.0 717.5,643.6 735.5,651.1 753.5,667.2 771.5,671.3 789.5,683.9 807.5,671.0 825.5,658.4 843.5,648.4 861.5,642.8 879.5,664.5 897.5,661.9 915.5,660.5 933.5,653.0 951.5,661.9 969.5,659.7 987.5,652.2 1005.5,644.4 1023.5,636.9 1041.5,633.6 1059.5,649.8 1077.5,655.7 1095.5,652.2 1113.5,671.0 1131.5,681.2 1149.5,675.3 1167.5,665.1 1185.5,651.6" fill="none" stroke="#008000" stroke-width="2.2" stroke-linejoin="round"/>
<polyline points="0.0,704.6 15.5,704.6 33.5,704.3 51.5,704.2 69.5,704.0 87.5,704.0 105.5,704.8 123.5,704.8 141.5,704.8 159.5,695.4 177.5,698.7 195.5,701.9 213.5,694.6 231.5,696.5 249.5,700.0 267.5,663.7 285.5,673.1 303.5,679.9 321.5,673.1 339.5,683.1 357.5,692.0 375.5,696.8 393.5,700.8 411.5,696.0 429.5,699.5 447.5,702.7 465.5,702.7 483.5,686.6 501.5,693.3 519.5,692.8 537.5,698.1 555.5,700.8 573.5,689.8 591.5,695.4 609.5,699.5 627.5,702.7 645.5,702.7 663.5,694.6 681.5,677.2 699.5,666.4 717.5,656.5 735.5,675.8 753.5,687.9 771.5,694.6 789.5,691.4 807.5,664.3 825.5,662.9 843.5,664.3 861.5,676.4 879.5,687.9 897.5,658.4 915.5,676.6 933.5,672.6 951.5,686.0 969.5,681.2 987.5,678.5 1005.5,665.1 1023.5,652.5 1041.5,659.7 1059.5,678.5 1077.5,684.7 1095.5,678.5 1113.5,689.3 1131.5,696.0 1149.5,692.5 1167.5,690.6 1185.5,665.6" fill="none" stroke="#0000ff" stroke-width="2.2" stroke-linejoin="round"/>
<polyline points="0.0,689.8 15.5,694.6 33.5,674.0 51.5,669.1 69.5,684.7 87.5,687.9 105.5,674.5 123.5,660.2 141.5,673.1 159.5,685.8 177.5,688.5 195.5,694.6 213.5,699.5 231.5,701.9 249.5,674.5 267.5,687.9 285.5,694.6 303.5,700.0 321.5,701.4 339.5,704.0 357.5,704.0 375.5,695.4 393.5,693.8 411.5,697.9 429.5,661.0 447.5,657.8 465.5,670.5 483.5,683.9 501.5,690.1 519.5,695.4 537.5,679.0 555.5,689.8 573.5,694.6 591.5,682.5 609.5,682.5 627.5,691.4 645.5,691.4 663.5,697.3 681.5,700.0 699.5,702.2 717.5,704.0 735.5,696.5 753.5,680.4 771.5,682.5 789.5,691.9 807.5,697.9 825.5,700.8 843.5,703.5 861.5,703.5 879.5,686.0 897.5,693.3 915.5,698.1 933.5,700.8 951.5,696.5 969.5,700.5 987.5,702.7 1005.5,704.0 1023.5,704.6 1041.5,704.6 1059.5,693.8 1077.5,698.1 1095.5,700.8 1113.5,692.8 1131.5,698.1 1149.5,701.4 1167.5,703.8 1185.5,704.0" fill="none" stroke="#ff0000" stroke-width="2.2" stroke-linejoin="round"/>
<path d="M87 816h1v1h-1zM87 810h1v1h-1zM87 804h1v1h-1zM87 798h1v1h-1zM87 793h1v1h-1zM87 787h1v1h-1zM87 781h1v1h-1zM87 775h1v1h-1zM87 770h1v1h-1zM87 764h1v1h-1zM87 758h1v1h-1zM87 752h1v1h-1zM87 747h1v1h-1zM87 741h1v1h-1zM87 735h1v1h-1zM87 729h1v1h-1zM177 816h1v1h-1zM177 810h1v1h-1zM177 804h1v1h-1zM177 798h1v1h-1zM177 793h1v1h-1zM177 787h1v1h-1zM177 781h1v1h-1zM177 775h1v1h-1zM177 770h1v1h-1zM177 764h1v1h-1zM177 758h1v1h-1zM177 752h1v1h-1zM177 747h1v1h-1zM177 741h1v1h-1zM177 735h1v1h-1zM177 729h1v1h-1zM267 816h1v1h-1zM267 810h1v1h-1zM267 804h1v1h-1zM267 798h1v1h-1zM267 793h1v1h-1zM267 787h1v1h-1zM267 781h1v1h-1zM267 775h1v1h-1zM267 770h1v1h-1zM267 764h1v1h-1zM267 758h1v1h-1zM267 752h1v1h-1zM267 747h1v1h-1zM267 741h1v1h-1zM267 735h1v1h-1zM267 729h1v1h-1zM357 816h1v1h-1zM357 810h1v1h-1zM357 804h1v1h-1zM357 798h1v1h-1zM357 793h1v1h-1zM357 787h1v1h-1zM357 781h1v1h-1zM357 775h1v1h-1zM357 770h1v1h-1zM357 764h1v1h-1zM357 758h1v1h-1zM357 752h1v1h-1zM357 747h1v1h-1zM357 741h1v1h-1zM357 735h1v1h-1zM357 729h1v1h-1zM447 816h1v1h-1zM447 810h1v1h-1zM447 804h1v1h-1zM447 798h1v1h-1zM447 793h1v1h-1zM447 787h1v1h-1zM447 781h1v1h-1zM447 775h1v1h-1zM447 770h1v1h-1zM447 764h1v1h-1zM447 758h1v1h-1zM447 752h1v1h-1zM447 747h1v1h-1zM447 741h1v1h-1zM447 735h1v1h-1zM447 729h1v1h-1zM537 816h1v1h-1zM537 810h1v1h-1zM537 804h1v1h-1zM537 798h1v1h-1zM537 793h1v1h-1zM537 787h1v1h-1zM537 781h1v1h-1zM537 775h1v1h-1zM537 770h1v1h-1zM537 764h1v1h-1zM537 758h1v1h-1zM537 752h1v1h-1zM537 747h1v1h-1zM537 741h1v1h-1zM537 735h1v1h-1zM537 729h1v1h-1zM627 816h1v1h-1zM627 810h1v1h-1zM627 804h1v1h-1zM627 798h1v1h-1zM627 793h1v1h-1zM627 787h1v1h-1zM627 781h1v1h-1zM627 775h1v1h-1zM627 770h1v1h-1zM627 764h1v1h-1zM627 758h1v1h-1zM627 752h1v1h-1zM627 747h1v1h-1zM627 741h1v1h-1zM627 735h1v1h-1zM627 729h1v1h-1zM717 816h1v1h-1zM717 810h1v1h-1zM717 804h1v1h-1zM717 798h1v1h-1zM717 793h1v1h-1zM717 787h1v1h-1zM717 781h1v1h-1zM717 775h1v1h-1zM717 770h1v1h-1zM717 764h1v1h-1zM717 758h1v1h-1zM717 752h1v1h-1zM717 747h1v1h-1zM717 741h1v1h-1zM717 735h1v1h-1zM717 729h1v1h-1zM789 816h1v1h-1zM789 810h1v1h-1zM789 804h1v1h-1zM789 798h1v1h-1zM789 793h1v1h-1zM789 787h1v1h-1zM789 781h1v1h-1zM789 775h1v1h-1zM789 770h1v1h-1zM789 764h1v1h-1zM789 758h1v1h-1zM789 752h1v1h-1zM789 747h1v1h-1zM789 741h1v1h-1zM789 735h1v1h-1zM789 729h1v1h-1zM879 816h1v1h-1zM879 810h1v1h-1zM879 804h1v1h-1zM879 798h1v1h-1zM879 793h1v1h-1zM879 787h1v1h-1zM879 781h1v1h-1zM879 775h1v1h-1zM879 770h1v1h-1zM879 764h1v1h-1zM879 758h1v1h-1zM879 752h1v1h-1zM879 747h1v1h-1zM879 741h1v1h-1zM879 735h1v1h-1zM879 729h1v1h-1zM969 816h1v1h-1zM969 810h1v1h-1zM969 804h1v1h-1zM969 798h1v1h-1zM969 793h1v1h-1zM969 787h1v1h-1zM969 781h1v1h-1zM969 775h1v1h-1zM969 770h1v1h-1zM969 764h1v1h-1zM969 758h1v1h-1zM969 752h1v1h-1zM969 747h1v1h-1zM969 741h1v1h-1zM969 735h1v1h-1zM969 729h1v1h-1zM1059 816h1v1h-1zM1059 810h1v1h-1zM1059 804h1v1h-1zM1059 798h1v1h-1zM1059 793h1v1h-1zM1059 787h1v1h-1zM1059 781h1v1h-1zM1059 775h1v1h-1zM1059 770h1v1h-1zM1059 764h1v1h-1zM1059 758h1v1h-1zM1059 752h1v1h-1zM1059 747h1v1h-1zM1059 741h1v1h-1zM1059 735h1v1h-1zM1059 729h1v1h-1zM1149 816h1v1h-1zM1149 810h1v1h-1zM1149 804h1v1h-1zM1149 798h1v1h-1zM1149 793h1v1h-1zM1149 787h1v1h-1zM1149 781h1v1h-1zM1149 775h1v1h-1zM1149 770h1v1h-1zM1149 764h1v1h-1zM1149 758h1v1h-1zM1149 752h1v1h-1zM1149 747h1v1h-1zM1149 741h1v1h-1zM1149 735h1v1h-1zM1149 729h1v1h-1zM15 798h1v1h-1zM33 798h1v1h-1zM51 798h1v1h-1zM69 798h1v1h-1zM87 798h1v1h-1zM105 798h1v1h-1zM123 798h1v1h-1zM141 798h1v1h-1zM159 798h1v1h-1zM177 798h1v1h-1zM195 798h1v1h-1zM213 798h1v1h-1zM231 798h1v1h-1zM249 798h1v1h-1zM267 798h1v1h-1zM285 798h1v1h-1zM303 798h1v1h-1zM321 798h1v1h-1zM339 798h1v1h-1zM357 798h1v1h-1zM375 798h1v1h-1zM393 798h1v1h-1zM411 798h1v1h-1zM429 798h1v1h-1zM447 798h1v1h-1zM465 798h1v1h-1zM483 798h1v1h-1zM501 798h1v1h-1zM519 798h1v1h-1zM537 798h1v1h-1zM555 798h1v1h-1zM573 798h1v1h-1zM591 798h1v1h-1zM609 798h1v1h-1zM627 798h1v1h-1zM645 798h1v1h-1zM663 798h1v1h-1zM681 798h1v1h-1zM699 798h1v1h-1zM717 798h1v1h-1zM735 798h1v1h-1zM753 798h1v1h-1zM771 798h1v1h-1zM789 798h1v1h-1zM807 798h1v1h-1zM825 798h1v1h-1zM843 798h1v1h-1zM861 798h1v1h-1zM879 798h1v1h-1zM897 798h1v1h-1zM915 798h1v1h-1zM933 798h1v1h-1zM951 798h1v1h-1zM969 798h1v1h-1zM987 798h1v1h-1zM1005 798h1v1h-1zM1023 798h1v1h-1zM1041 798h1v1h-1zM1059 798h1v1h-1zM1077 798h1v1h-1zM1095 798h1v1h-1zM1113 798h1v1h-1zM1131 798h1v1h-1zM1149 798h1v1h-1zM1167 798h1v1h-1zM1185 798h1v1h-1zM15 741h1v1h-1zM33 741h1v1h-1zM51 741h1v1h-1zM69 741h1v1h-1zM87 741h1v1h-1zM105 741h1v1h-1zM123 741h1v1h-1zM141 741h1v1h-1zM159 741h1v1h-1zM177 741h1v1h-1zM195 741h1v1h-1zM213 741h1v1h-1zM231 741h1v1h-1zM249 741h1v1h-1zM267 741h1v1h-1zM285 741h1v1h-1zM303 741h1v1h-1zM321 741h1v1h-1zM339 741h1v1h-1zM357 741h1v1h-1zM375 741h1v1h-1zM393 741h1v1h-1zM411 741h1v1h-1zM429 741h1v1h-1zM447 741h1v1h-1zM465 741h1v1h-1zM483 741h1v1h-1zM501 741h1v1h-1zM519 741h1v1h-1zM537 741h1v1h-1zM555 741h1v1h-1zM573 741h1v1h-1zM591 741h1v1h-1zM609 741h1v1h-1zM627 741h1v1h-1zM645 741h1v1h-1zM663 741h1v1h-1zM681 741h1v1h-1zM699 741h1v1h-1zM717 741h1v1h-1zM735 741h1v1h-1zM753 741h1v1h-1zM771 741h1v1h-1zM789 741h1v1h-1zM807 741h1v1h-1zM825 741h1v1h-1zM843 741h1v1h-1zM861 741h1v1h-1zM879 741h1v1h-1zM897 741h1v1h-1zM915 741h1v1h-1zM933 741h1v1h-1zM951 741h1v1h-1zM969 741h1v1h-1zM987 741h1v1h-1zM1005 741h1v1h-1zM1023 741h1v1h-1zM1041 741h1v1h-1zM1059 741h1v1h-1zM1077 741h1v1h-1zM1095 741h1v1h-1zM1113 741h1v1h-1zM1131 741h1v1h-1zM1149 741h1v1h-1zM1167 741h1v1h-1zM1185 741h1v1h-1z" fill="#000"/>
<rect x="1" y="816" width="2" height="1" fill="#000" />
<rect x="1213" y="816" width="2" height="1" fill="#000" />
<rect x="1" y="810" width="2" height="1" fill="#000" />
<rect x="1213" y="810" width="2" height="1" fill="#000" />
<rect x="1" y="804" width="2" height="1" fill="#000" />
<rect x="1213" y="804" width="2" height="1" fill="#000" />
<rect x="1" y="798" width="2" height="1" fill="#000" />
<rect x="1213" y="798" width="2" height="1" fill="#000" />
<rect x="1" y="793" width="2" height="1" fill="#000" />
<rect x="1213" y="793" width="2" height="1" fill="#000" />
<rect x="1" y="787" width="2" height="1" fill="#000" />
<rect x="1213" y="787" width="2" height="1" fill="#000" />
<rect x="1" y="781" width="2" height="1" fill="#000" />
<rect x="1213" y="781" width="2" height="1" fill="#000" />
<rect x="1" y="775" width="2" height="1" fill="#000" />
<rect x="1213" y="775" width="2" height="1" fill="#000" />
<rect x="1" y="770" width="2" height="1" fill="#000" />
<rect x="1213" y="770" width="2" height="1" fill="#000" />
<rect x="1" y="764" width="2" height="1" fill="#000" />
<rect x="1213" y="764" width="2" height="1" fill="#000" />
<rect x="1" y="758" width="2" height="1" fill="#000" />
<rect x="1213" y="758" width="2" height="1" fill="#000" />
<rect x="1" y="752" width="2" height="1" fill="#000" />
<rect x="1213" y="752" width="2" height="1" fill="#000" />
<rect x="1" y="747" width="2" height="1" fill="#000" />
<rect x="1213" y="747" width="2" height="1" fill="#000" />
<rect x="1" y="741" width="2" height="1" fill="#000" />
<rect x="1213" y="741" width="2" height="1" fill="#000" />
<rect x="1" y="735" width="2" height="1" fill="#000" />
<rect x="1213" y="735" width="2" height="1" fill="#000" />
<rect x="1" y="729" width="2" height="1" fill="#000" />
<rect x="1213" y="729" width="2" height="1" fill="#000" />
<rect x="1" y="798" width="4" height="1" fill="#000" />
<rect x="1211" y="798" width="4" height="1" fill="#000" />
<rect x="1" y="770" width="4" height="1" fill="#000" />
<rect x="1211" y="770" width="4" height="1" fill="#000" />
<rect x="1" y="741" width="4" height="1" fill="#000" />
<rect x="1211" y="741" width="4" height="1" fill="#000" />
<rect x="2" y="719" width="34" height="11" fill="#6a6a6a" />
<rect x="1" y="717" width="33" height="11" fill="#ffffff" />
<text x="2" y="726" font-size="9.7" font-weight="bold" fill="#000" textLength="30" lengthAdjust="spacingAndGlyphs">RSI, 9</text>
<line x1="0" x2="1215" y1="741.5" y2="741.5" stroke="#cc0000" stroke-dasharray="3 3"/>
<line x1="0" x2="1215" y1="798.5" y2="798.5" stroke="#0000dd" stroke-dasharray="3 3"/>
<rect x="1" y="770" width="1214" height="1" fill="#0000dd" />
<polyline points="0.0,782.0 15.5,785.2 33.5,794.6 51.5,791.4 69.5,794.0 87.5,796.7 105.5,801.3 123.5,805.6 141.5,792.2 159.5,789.2 177.5,795.9 195.5,790.0 213.5,785.2 231.5,787.9 249.5,786.5 267.5,774.4 285.5,780.6 303.5,768.5 321.5,765.3 339.5,770.4 357.5,763.7 375.5,774.4 393.5,773.1 411.5,774.7 429.5,787.3 447.5,795.9 465.5,782.8 483.5,782.5 501.5,778.5 519.5,781.4 537.5,784.6 555.5,783.3 573.5,785.4 591.5,789.5 609.5,792.7 627.5,788.1 645.5,788.1 663.5,784.1 681.5,771.2 699.5,771.2 717.5,764.5 735.5,765.3 753.5,778.5 771.5,778.5 789.5,770.4 807.5,751.6 825.5,750.2 843.5,745.7 861.5,746.5 879.5,746.5 897.5,739.5 915.5,740.8 933.5,740.8 951.5,744.3 969.5,738.4 987.5,740.8 1005.5,735.7 1023.5,731.4 1041.5,730.4 1059.5,745.1 1077.5,740.8 1095.5,736.3 1113.5,752.4 1131.5,747.6 1149.5,748.9 1167.5,746.2 1185.5,743.0" fill="none" stroke="#0000ff" stroke-width="1" />
<rect x="0" y="0" width="1267" height="1" fill="#000" />
<rect x="0" y="0" width="1" height="818" fill="#000" />
<rect x="0" y="404" width="1267" height="2" fill="#000" />
<rect x="0" y="512" width="1267" height="2" fill="#000" />
<rect x="0" y="612" width="1267" height="2" fill="#000" />
<rect x="0" y="715" width="1267" height="2" fill="#000" />
<rect x="0" y="818" width="1267" height="1" fill="#000" />
<rect x="0" y="821" width="1216" height="1" fill="#000" />
<rect x="1215" y="0" width="1" height="822" fill="#000" />
<rect x="87" y="821" width="1" height="13" fill="#000" />
<text x="89" y="832" font-size="11" fill="#000">Ноя 14</text>
<rect x="177" y="821" width="1" height="13" fill="#000" />
<text x="179" y="832" font-size="11" fill="#000">21</text>
<rect x="267" y="821" width="1" height="13" fill="#000" />
<text x="269" y="832" font-size="11" fill="#000">28</text>
<rect x="357" y="821" width="1" height="13" fill="#000" />
<text x="359" y="832" font-size="11" fill="#000">Дек 5</text>
<rect x="447" y="821" width="1" height="13" fill="#000" />
<text x="449" y="832" font-size="11" fill="#000">12</text>
<rect x="537" y="821" width="1" height="13" fill="#000" />
<text x="539" y="832" font-size="11" fill="#000">19</text>
<rect x="627" y="821" width="1" height="13" fill="#000" />
<text x="629" y="832" font-size="11" fill="#000">26</text>
<rect x="717" y="821" width="1" height="13" fill="#000" />
<text x="719" y="832" font-size="11" fill="#000">Янв 3</text>
<rect x="789" y="821" width="1" height="13" fill="#000" />
<text x="791" y="832" font-size="11" fill="#000">9</text>
<rect x="879" y="821" width="1" height="13" fill="#000" />
<text x="881" y="832" font-size="11" fill="#000">16</text>
<rect x="969" y="821" width="1" height="13" fill="#000" />
<text x="971" y="832" font-size="11" fill="#000">23</text>
<rect x="1059" y="821" width="1" height="13" fill="#000" />
<text x="1061" y="832" font-size="11" fill="#000">30</text>
<rect x="1149" y="821" width="1" height="13" fill="#000" />
<text x="1151" y="832" font-size="11" fill="#000">Фев 6</text>
<text x="1264" y="51.3" font-size="10.5" font-weight="bold" text-anchor="end" fill="#000">6000.00</text>
<text x="1264" y="305.3" font-size="10.5" font-weight="bold" text-anchor="end" fill="#000">5000.00</text>
<rect x="1216" y="-7" width="51" height="12" fill="#000" />
<rect x="1216" y="-6" width="50" height="10" fill="#008000" />
<text x="1264" y="2.8" font-size="10.5" font-weight="bold" text-anchor="end" fill="#fff">6193.00</text>
<rect x="1216" y="37" width="51" height="12" fill="#000" />
<rect x="1216" y="38" width="50" height="10" fill="url(#hat)" />
<text x="1264" y="46.8" font-size="10.5" font-weight="bold" text-anchor="end" fill="#000">6022.62</text>
<rect x="1216" y="29" width="51" height="12" fill="#000" />
<rect x="1216" y="30" width="50" height="10" fill="#0000e0" />
<text x="1264" y="38.8" font-size="10.5" font-weight="bold" text-anchor="end" fill="#fff">6053.00</text>
<rect x="1216" y="53" width="51" height="12" fill="#000" />
<rect x="1216" y="54" width="50" height="10" fill="#000080" />
<text x="1264" y="62.8" font-size="10.5" font-weight="bold" text-anchor="end" fill="#fff">5971.71</text>
<rect x="1216" y="57" width="51" height="12" fill="#000" />
<rect x="1216" y="58" width="50" height="10" fill="#000000" />
<text x="1264" y="66.8" font-size="10.5" font-weight="bold" text-anchor="end" fill="#fff">5941.00</text>
<rect x="1216" y="104" width="51" height="12" fill="#000" />
<rect x="1216" y="105" width="50" height="10" fill="#000080" />
<text x="1264" y="113.8" font-size="10.5" font-weight="bold" text-anchor="end" fill="#fff">5755.78</text>
<rect x="1216" y="124" width="51" height="12" fill="#000" />
<rect x="1216" y="125" width="50" height="10" fill="#00ff00" />
<text x="1264" y="133.8" font-size="10.5" font-weight="bold" text-anchor="end" fill="#fff">5690.10</text>
<rect x="1216" y="136" width="51" height="12" fill="#000" />
<rect x="1216" y="137" width="50" height="10" fill="#8b0000" />
<text x="1264" y="145.8" font-size="10.5" font-weight="bold" text-anchor="end" fill="#fff">5628.71</text>
<rect x="1216" y="126" width="51" height="12" fill="#000" />
<rect x="1216" y="127" width="50" height="10" fill="#0000e0" />
<text x="1264" y="135.8" font-size="10.5" font-weight="bold" text-anchor="end" fill="#fff">5668.00</text>
<rect x="1216" y="169" width="51" height="12" fill="#000" />
<rect x="1216" y="170" width="50" height="10" fill="#008000" />
<text x="1264" y="178.8" font-size="10.5" font-weight="bold" text-anchor="end" fill="#fff">5500.00</text>
<rect x="1216" y="188" width="51" height="12" fill="#000" />
<rect x="1216" y="189" width="50" height="10" fill="#0000e0" />
<text x="1264" y="197.8" font-size="10.5" font-weight="bold" text-anchor="end" fill="#fff">5422.00</text>
<rect x="1216" y="233" width="51" height="12" fill="#000" />
<rect x="1216" y="234" width="50" height="10" fill="#c07080" />
<text x="1264" y="242.8" font-size="10.5" font-weight="bold" text-anchor="end" fill="#000">5246.03</text>
<rect x="1216" y="226" width="51" height="12" fill="#000" />
<rect x="1216" y="227" width="50" height="10" fill="#0000e0" />
<text x="1264" y="235.8" font-size="10.5" font-weight="bold" text-anchor="end" fill="#fff">5277.00</text>
<rect x="1216" y="219" width="51" height="12" fill="#000" />
<rect x="1216" y="220" width="50" height="10" fill="url(#hat)" />
<text x="1264" y="228.8" font-size="10.5" font-weight="bold" text-anchor="end" fill="#000">5298.02</text>
<rect x="1216" y="307" width="51" height="12" fill="#000" />
<rect x="1216" y="308" width="50" height="10" fill="#ff0000" />
<text x="1264" y="316.8" font-size="10.5" font-weight="bold" text-anchor="end" fill="#fff">4955.00</text>
<rect x="1216" y="360" width="51" height="12" fill="#000" />
<rect x="1216" y="361" width="50" height="10" fill="#0000e0" />
<text x="1264" y="369.8" font-size="10.5" font-weight="bold" text-anchor="end" fill="#fff">4747.00</text>
<rect x="1216" y="376" width="51" height="12" fill="#000" />
<rect x="1216" y="377" width="50" height="10" fill="#0000e0" />
<text x="1264" y="385.8" font-size="10.5" font-weight="bold" text-anchor="end" fill="#fff">4680.00</text>
<text x="1264" y="462.3" font-size="10.5" font-weight="bold" text-anchor="end" fill="#000">50.00</text>
<rect x="1216" y="410" width="51" height="12" fill="#000" />
<rect x="1216" y="411" width="50" height="10" fill="#ff0000" />
<text x="1264" y="419.8" font-size="10.5" font-weight="bold" text-anchor="end" fill="#fff"></text>
<rect x="1216" y="412" width="51" height="12" fill="#000" />
<rect x="1216" y="413" width="50" height="10" fill="#ff0000" />
<text x="1264" y="421.8" font-size="10.5" font-weight="bold" text-anchor="end" fill="#fff"></text>
<rect x="1216" y="414" width="51" height="12" fill="#000" />
<rect x="1216" y="415" width="50" height="10" fill="#ff0000" />
<text x="1264" y="423.8" font-size="10.5" font-weight="bold" text-anchor="end" fill="#fff"></text>
<rect x="1216" y="416" width="51" height="12" fill="#000" />
<rect x="1216" y="417" width="50" height="10" fill="url(#hat)" />
<text x="1264" y="425.8" font-size="10.5" font-weight="bold" text-anchor="end" fill="#fff">88.50</text>
<rect x="1216" y="429" width="51" height="12" fill="#000" />
<rect x="1216" y="430" width="50" height="10" fill="#cc0000" />
<text x="1264" y="438.8" font-size="10.5" font-weight="bold" text-anchor="end" fill="#fff">75.00</text>
<rect x="1216" y="477" width="51" height="12" fill="#000" />
<rect x="1216" y="478" width="50" height="10" fill="#0000cc" />
<text x="1264" y="486.8" font-size="10.5" font-weight="bold" text-anchor="end" fill="#fff">17.00</text>
<rect x="1216" y="481" width="51" height="12" fill="#000" />
<rect x="1216" y="482" width="50" height="10" fill="#0000cc" />
<text x="1264" y="490.8" font-size="10.5" font-weight="bold" text-anchor="end" fill="#fff">20.00</text>
<text x="1264" y="527.3" font-size="10.5" font-weight="bold" text-anchor="end" fill="#000">250.00</text>
<text x="1264" y="554.8" font-size="10.5" font-weight="bold" text-anchor="end" fill="#000">0.00</text>
<text x="1264" y="581.5" font-size="10.5" font-weight="bold" text-anchor="end" fill="#000">-250.00</text>
<text x="1264" y="608.4" font-size="10.5" font-weight="bold" text-anchor="end" fill="#000">-500.00</text>
<rect x="1216" y="525" width="50" height="2" fill="#0000cc" />
<rect x="1216" y="526" width="51" height="12" fill="#000" />
<rect x="1216" y="527" width="50" height="10" fill="#ff0000" />
<text x="1264" y="535.8" font-size="10.5" font-weight="bold" text-anchor="end" fill="#000">171.50</text>
<text x="1264" y="648.3" font-size="10.5" font-weight="bold" text-anchor="end" fill="#000">75.00</text>
<text x="1264" y="689.3" font-size="10.5" font-weight="bold" text-anchor="end" fill="#000">25.00</text>
<rect x="1216" y="646" width="51" height="12" fill="#000" />
<rect x="1216" y="647" width="50" height="10" fill="#008000" />
<text x="1264" y="655.8" font-size="10.5" font-weight="bold" text-anchor="end" fill="#fff">66.43</text>
<rect x="1216" y="661" width="51" height="12" fill="#000" />
<rect x="1216" y="662" width="50" height="10" fill="#0000ff" />
<text x="1264" y="670.8" font-size="10.5" font-weight="bold" text-anchor="end" fill="#fff">48.30</text>
<rect x="1216" y="699" width="51" height="12" fill="#000" />
<rect x="1216" y="700" width="50" height="10" fill="#ff0000" />
<text x="1264" y="708.8" font-size="10.5" font-weight="bold" text-anchor="end" fill="#fff">2.10</text>
<rect x="1216" y="736" width="51" height="12" fill="#000" />
<rect x="1216" y="737" width="50" height="10" fill="#990000" />
<text x="1264" y="745.8" font-size="10.5" font-weight="bold" text-anchor="end" fill="#fff">75.00</text>
<rect x="1216" y="738" width="51" height="12" fill="#000" />
<rect x="1216" y="739" width="50" height="10" fill="#0000ff" />
<text x="1264" y="747.8" font-size="10.5" font-weight="bold" text-anchor="end" fill="#fff">73.50</text>
<rect x="1216" y="765" width="51" height="12" fill="#000" />
<rect x="1216" y="766" width="50" height="10" fill="#0000dd" />
<text x="1264" y="774.8" font-size="10.5" font-weight="bold" text-anchor="end" fill="#fff">50.00</text>
<rect x="1216" y="793" width="51" height="12" fill="#000" />
<rect x="1216" y="794" width="50" height="10" fill="#0000aa" />
<text x="1264" y="802.8" font-size="10.5" font-weight="bold" text-anchor="end" fill="#fff">25.00</text>
<rect x="1216" y="819" width="52" height="15" fill="#ffffff" />
<text x="951" y="433" font-size="16.5" textLength="310" lengthAdjust="spacingAndGlyphs" fill="#857575" fill-opacity="0.68" stroke="#857575" stroke-opacity="0.68" stroke-width="0.45" shape-rendering="geometricPrecision">Портал для трейдеров - ForTrader.ru</text>
</svg></body></html>
